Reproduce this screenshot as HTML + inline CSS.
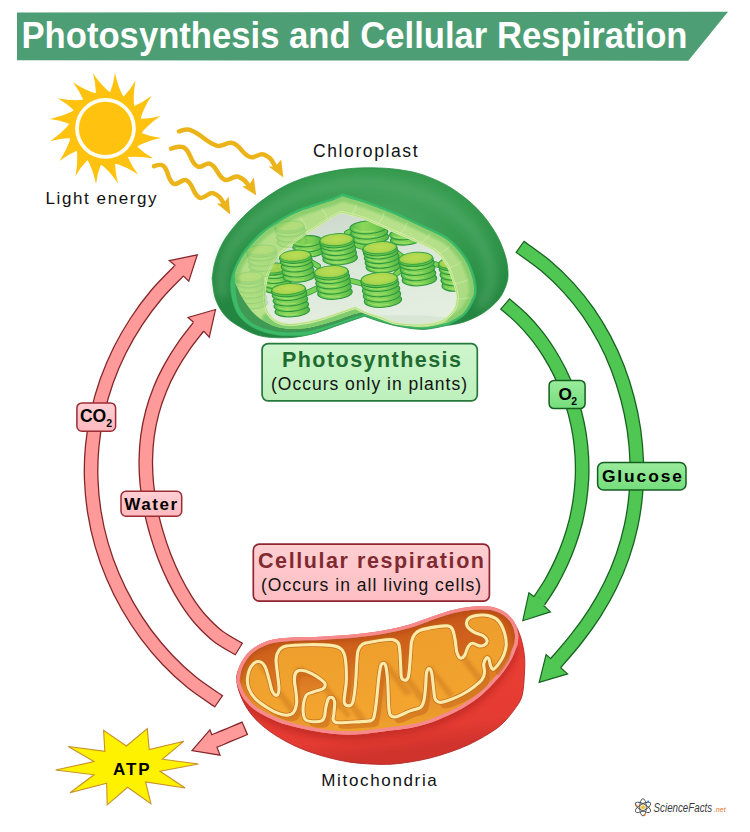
<!DOCTYPE html>
<html lang="en">
<head>
<meta charset="utf-8">
<title>Photosynthesis and Cellular Respiration</title>
<style>
html,body{margin:0;padding:0;background:#fff;}
body{width:750px;height:832px;overflow:hidden;font-family:"Liberation Sans",sans-serif;}
svg{display:block;}
text{font-family:"Liberation Sans",sans-serif;}
</style>
</head>
<body>
<svg width="750" height="832" viewBox="0 0 750 832">
<defs>
<linearGradient id="gPinkBox" x1="0" y1="0" x2="0" y2="1"><stop offset="0" stop-color="#ffd0d4"/><stop offset="1" stop-color="#ffb9bf"/></linearGradient>
<linearGradient id="gGreenBox" x1="0" y1="0" x2="0" y2="1"><stop offset="0" stop-color="#9aec9c"/><stop offset="1" stop-color="#74dd7c"/></linearGradient>
<linearGradient id="gPhotoBox" x1="0" y1="0" x2="0" y2="1"><stop offset="0" stop-color="#cff5cc"/><stop offset="1" stop-color="#bdf0bc"/></linearGradient>
<linearGradient id="gRespBox" x1="0" y1="0" x2="0" y2="1"><stop offset="0" stop-color="#ffcfd2"/><stop offset="1" stop-color="#ffbec3"/></linearGradient>
</defs>
<polygon points="17,12.4 728,11.7 688.3,60.7 17,60.2" fill="#4d9e74"/>
<text x="21.5" y="47.5" font-size="36.5" font-weight="bold" fill="#fff" textLength="666" lengthAdjust="spacingAndGlyphs">Photosynthesis and Cellular Respiration</text>
<path d="M110,92.7 Q113.8,82.9 115,72.7 Q117.8,86.5 123.6,97.3 L105.5,128.4 Z M123.3,97.1 Q130.6,89.5 135.6,80.6 Q132.9,94.4 134.1,106.6 L105.5,128.4 Z M133.9,106.3 Q143.5,102.1 151.6,95.8 Q143.8,107.4 140.3,119.2 L105.5,128.4 Z M140.2,118.9 Q150.7,118.6 160.6,115.9 Q148.9,123.7 141.2,133.2 L105.5,128.4 Z M141.2,132.9 Q151,136.7 161.2,137.9 Q147.4,140.7 136.6,146.5 L105.5,128.4 Z M136.8,146.2 Q144.4,153.5 153.3,158.5 Q139.5,155.8 127.3,157 L105.5,128.4 Z M127.6,156.8 Q131.8,166.4 138.1,174.5 Q126.5,166.7 114.7,163.2 L105.5,128.4 Z M115,163.1 Q115.3,173.6 118,183.5 Q110.2,171.8 100.7,164.1 L105.5,128.4 Z M101,164.1 Q97.2,173.9 96,184.1 Q93.2,170.3 87.4,159.5 L105.5,128.4 Z M87.7,159.7 Q80.4,167.3 75.4,176.2 Q78.1,162.4 76.9,150.2 L105.5,128.4 Z M77.1,150.5 Q67.5,154.7 59.4,161 Q67.2,149.4 70.7,137.6 L105.5,128.4 Z M70.8,137.9 Q60.3,138.2 50.4,140.9 Q62.1,133.1 69.8,123.6 L105.5,128.4 Z M69.8,123.9 Q60,120.1 49.8,118.9 Q63.6,116.1 74.4,110.3 L105.5,128.4 Z M74.2,110.6 Q66.6,103.3 57.7,98.3 Q71.5,101 83.7,99.8 L105.5,128.4 Z M83.4,100 Q79.2,90.4 72.9,82.3 Q84.5,90.1 96.3,93.6 L105.5,128.4 Z M96,93.7 Q95.7,83.2 93,73.3 Q100.8,85 110.3,92.7 L105.5,128.4 Z " fill="#ffc20e"/>
<circle cx="105.5" cy="128.4" r="37" fill="#ffc20e"/>
<circle cx="105.5" cy="128.4" r="30.4" fill="#fffdf2"/>
<circle cx="105.5" cy="128.4" r="26.6" fill="#ffc20e"/>
<path d="M179,131.3C182.3,130.4 186.1,128.4 190,129.8C202,134.2 204.5,141.2 216.5,145.6C222.3,147.7 227.2,141.1 233,143.2C241.2,146.2 241.8,154 250,157C254.9,158.8 259.1,152.8 264,154.6C271.8,157.5 272.2,162.2 276.6,168.2" fill="none" stroke="#ecb41b" stroke-width="4.5" stroke-linecap="round" stroke-linejoin="round"/>
<polygon points="283.4,177.4 268.6,166.6 275.4,166.6 281.2,159.6" fill="#ecb41b"/>
<path d="M171,148.6C174.6,147.7 178.7,145.6 183,147.2C191.2,150.2 189.8,163.6 198,166.6C202.1,168.1 205.9,162.3 210,163.8C217.7,166.6 217.3,177 225,179.8C229.4,181.4 233.6,175 238,176.6C244.8,179.1 246.1,182.1 250,187.2" fill="none" stroke="#ecb41b" stroke-width="4.5" stroke-linecap="round" stroke-linejoin="round"/>
<polygon points="256.2,195.4 242.2,186.6 248.8,185.6 253.8,177.6" fill="#ecb41b"/>
<path d="M154,166.2C156.4,165.4 159.2,164.2 162,165.2C169,167.7 167,181.3 174,183.8C178,185.2 182,178.8 186,180.2C193.6,183 192.4,195 200,197.8C204.2,199.3 208.8,191.7 213,193.2C220.2,195.8 221.4,199.5 224.8,205.3" fill="none" stroke="#ecb41b" stroke-width="4.5" stroke-linecap="round" stroke-linejoin="round"/>
<polygon points="230.2,214.4 216.8,203.6 223.8,203.6 228.6,196.6" fill="#ecb41b"/>
<text x="45.5" y="203.5" font-size="17" fill="#111" textLength="111" lengthAdjust="spacing">Light energy</text>
<path d="M219.1,701.6C214.6,698.4 200.6,689.5 192,682.6C183.4,675.7 175.2,668 167.5,659.9C159.9,651.9 152.7,643.2 146,634.3C139.4,625.3 133.2,615.9 127.7,606.2C122.1,596.5 117.1,586.4 112.8,576.2C108.4,565.9 104.7,555.4 101.6,544.7C98.5,534.1 96.1,523.2 94.4,512.3C92.6,501.4 91.6,490.3 91.2,479.3C90.8,468.3 91.2,457.2 92.2,446.2C93.2,435.2 95,424.1 97.4,413.3C99.8,402.5 102.9,391.7 106.6,381.2C110.4,370.7 114.8,360.3 119.8,350.3C124.8,340.3 130.5,330.5 136.6,321.2C142.7,311.9 149.5,302.8 156.6,294.4C163.7,286 175.4,274.6 179.2,270.7" fill="none" stroke="#85262a" stroke-width="14.8"/>
<polygon points="197.3,254.8 169.3,260.7 175.2,265.5 183.2,275.9 188.8,281.2" fill="#ff9a9b"/>
<polyline points="175.2,265.5 169.3,260.7 197.3,254.8 188.8,281.2 183.2,275.9" fill="none" stroke="#85262a" stroke-width="1.2" stroke-linejoin="miter" stroke-linecap="round"/>
<path d="M218.1,700.9C213.8,697.9 200.4,689.4 192,682.6C183.6,675.8 175.2,668 167.5,659.9C159.9,651.9 152.7,643.2 146,634.3C139.4,625.3 133.2,615.9 127.7,606.2C122.1,596.5 117.1,586.4 112.8,576.2C108.4,565.9 104.7,555.4 101.6,544.7C98.5,534.1 96.1,523.2 94.4,512.3C92.6,501.4 91.6,490.3 91.2,479.3C90.8,468.3 91.2,457.2 92.2,446.2C93.2,435.2 95,424.1 97.4,413.3C99.8,402.5 102.9,391.7 106.6,381.2C110.4,370.7 114.8,360.3 119.8,350.3C124.8,340.3 130.5,330.5 136.6,321.2C142.7,311.9 149.5,302.8 156.6,294.4C163.7,286 175.1,275 179.2,270.7C183.3,266.4 180.9,268.9 181.3,268.5" fill="none" stroke="#ff9a9b" stroke-width="12.2"/>
<path d="M239.3,649.3C235.7,647.1 224.3,641.1 217.8,636.1C211.4,631.1 205.8,625.4 200.5,619.5C195.2,613.5 190.6,607 186.2,600.2C181.9,593.5 177.9,586.3 174.3,579.1C170.7,571.8 167.4,564.2 164.4,556.5C161.5,548.8 158.8,541 156.5,533C154.2,525.1 152.1,517 150.6,509C149,500.9 147.7,492.8 146.9,484.6C146.1,476.5 145.7,468.3 145.8,460.2C145.9,452.1 146.4,444 147.5,436C148.6,428 150.2,420.1 152.3,412.2C154.3,404.4 157,396.7 160.1,389.1C163.1,381.5 166.8,374.1 170.8,366.9C174.7,359.7 179.2,352.6 183.9,345.9C188.5,339.2 196.2,329.9 198.6,326.7" fill="none" stroke="#85262a" stroke-width="14.8"/>
<polygon points="215.5,309.5 188,317.5 193.3,322 204,331.3 209.3,337.2" fill="#ff9a9b"/>
<polyline points="193.3,322 188,317.5 215.5,309.5 209.3,337.2 204,331.3" fill="none" stroke="#85262a" stroke-width="1.2" stroke-linejoin="miter" stroke-linecap="round"/>
<path d="M238.3,648.7C234.9,646.6 224.1,641 217.8,636.1C211.5,631.2 205.8,625.4 200.5,619.5C195.2,613.5 190.6,607 186.2,600.2C181.9,593.5 177.9,586.3 174.3,579.1C170.7,571.8 167.4,564.2 164.4,556.5C161.5,548.8 158.8,541 156.5,533C154.2,525.1 152.1,517 150.6,509C149,500.9 147.7,492.8 146.9,484.6C146.1,476.5 145.7,468.3 145.8,460.2C145.9,452.1 146.4,444 147.5,436C148.6,428 150.2,420.1 152.3,412.2C154.3,404.4 157,396.7 160.1,389.1C163.1,381.5 166.8,374.1 170.8,366.9C174.7,359.7 179.2,352.6 183.9,345.9C188.5,339.2 195.9,330.3 198.6,326.7C201.4,323 200.2,324.7 200.5,324.3" fill="none" stroke="#ff9a9b" stroke-width="12.2"/>
<path d="M245.3,728.1C242.8,729.2 235.1,732.4 230,734.5C224.9,736.6 217.1,739.9 214.5,741" fill="none" stroke="#85262a" stroke-width="14.8"/>
<polygon points="192,750.7 220,755.2 216.5,745.9 212.5,736 209.9,729.9" fill="#ff9a9b"/>
<polyline points="216.5,745.9 220,755.2 192,750.7 209.9,729.9 212.5,736" fill="none" stroke="#85262a" stroke-width="1.2" stroke-linejoin="miter" stroke-linecap="round"/>
<path d="M244.2,728.6C241.8,729.6 234.9,732.4 230,734.5C225.1,736.6 217.4,739.7 214.5,741C211.6,742.2 213,741.6 212.7,741.7" fill="none" stroke="#ff9a9b" stroke-width="12.2"/>
<path d="M519.6,246.5C524,249.7 537.6,259 545.8,265.9C554,272.8 561.6,280.1 568.6,287.9C575.7,295.6 582.2,303.8 588.2,312.3C594.1,320.9 599.6,329.9 604.5,339.1C609.5,348.4 613.9,358.1 617.7,368C621.5,377.9 624.8,388.2 627.5,398.5C630.3,408.9 632.4,419.5 634,430.1C635.5,440.7 636.4,451.5 636.8,462.2C637.1,472.9 636.8,483.7 635.8,494.3C634.9,504.9 633.3,515.5 631.1,525.8C628.9,536.1 626,546.3 622.6,556.2C619.2,566.1 615.1,575.8 610.4,585.3C605.8,594.7 600.6,603.8 594.9,612.7C589.2,621.6 583,630.2 576.4,638.6C569.9,647 559.2,659 555.7,663.1" fill="none" stroke="#176322" stroke-width="14.8"/>
<polygon points="539.2,682.3 567.6,673.9 560.7,667.7 550.8,658.6 546.1,654.6" fill="#50c752"/>
<polyline points="560.7,667.7 567.6,673.9 539.2,682.3 546.1,654.6 550.8,658.6" fill="none" stroke="#176322" stroke-width="1.2" stroke-linejoin="miter" stroke-linecap="round"/>
<path d="M520.5,247.2C524.8,250.3 537.8,259.2 545.8,265.9C553.8,272.7 561.6,280.1 568.6,287.9C575.7,295.6 582.2,303.8 588.2,312.3C594.1,320.9 599.6,329.9 604.5,339.1C609.5,348.4 613.9,358.1 617.7,368C621.5,377.9 624.8,388.2 627.5,398.5C630.3,408.9 632.4,419.5 634,430.1C635.5,440.7 636.4,451.5 636.8,462.2C637.1,472.9 636.8,483.7 635.8,494.3C634.9,504.9 633.3,515.5 631.1,525.8C628.9,536.1 626,546.3 622.6,556.2C619.2,566.1 615.1,575.8 610.4,585.3C605.8,594.7 600.6,603.8 594.9,612.7C589.2,621.6 583,630.2 576.4,638.6C569.9,647 559.5,658.7 555.7,663.1C551.9,667.6 554.1,665 553.8,665.4" fill="none" stroke="#50c752" stroke-width="12.2"/>
<path d="M504.7,303.6C507.5,306 516,312.9 521.2,318.1C526.4,323.2 531.3,328.7 535.9,334.4C540.5,340.1 544.7,346.2 548.7,352.4C552.6,358.6 556.2,365 559.5,371.6C562.7,378.2 565.7,385 568.2,391.8C570.8,398.7 573,405.8 574.9,412.8C576.8,419.9 578.3,427.1 579.5,434.4C580.6,441.6 581.4,448.9 581.8,456.2C582.2,463.5 582.3,470.9 582,478.2C581.6,485.5 580.9,492.8 579.9,500.1C578.8,507.3 577.4,514.5 575.7,521.7C573.9,528.8 571.8,535.8 569.3,542.8C566.9,549.7 564.1,556.5 561,563.2C557.9,569.9 554.5,576.4 550.9,582.8C547.2,589.1 541,598.2 539,601.2" fill="none" stroke="#176322" stroke-width="14.8"/>
<polygon points="522.8,620.7 550.4,611.9 543.9,605.7 534.2,596.8 528.9,592.7" fill="#50c752"/>
<polyline points="543.9,605.7 550.4,611.9 522.8,620.7 528.9,592.7 534.2,596.8" fill="none" stroke="#176322" stroke-width="1.2" stroke-linejoin="miter" stroke-linecap="round"/>
<path d="M505.6,304.4C508.2,306.7 516.2,313.1 521.2,318.1C526.3,323.1 531.3,328.7 535.9,334.4C540.5,340.1 544.7,346.2 548.7,352.4C552.6,358.6 556.2,365 559.5,371.6C562.7,378.2 565.7,385 568.2,391.8C570.8,398.7 573,405.8 574.9,412.8C576.8,419.9 578.3,427.1 579.5,434.4C580.6,441.6 581.4,448.9 581.8,456.2C582.2,463.5 582.3,470.9 582,478.2C581.6,485.5 580.9,492.8 579.9,500.1C578.8,507.3 577.4,514.5 575.7,521.7C573.9,528.8 571.8,535.8 569.3,542.8C566.9,549.7 564.1,556.5 561,563.2C557.9,569.9 554.5,576.4 550.9,582.8C547.2,589.1 541.3,597.7 539,601.2C536.8,604.7 537.7,603.4 537.4,603.8" fill="none" stroke="#50c752" stroke-width="12.2"/>
<polygon points="55.6,770 94,761.6 68.3,746.5 104.8,751.3 103.6,730.4 126.4,746 147.3,728.7 149.2,749.6 184,741.2 162.4,759.2 198.4,764 160,771.2 185.2,788 145.6,782 150.9,803.6 127.6,787.3 107.2,804.8 106.7,783.2 70,792.8 94,774.8" fill="#fff200" stroke="#c8902a" stroke-width="1.1" stroke-linejoin="miter"/>
<text x="113" y="775.3" font-size="17" font-weight="bold" fill="#000" textLength="36.5" lengthAdjust="spacing">ATP</text>
<defs>
<radialGradient id="gEnv" cx="0.55" cy="0.28" r="0.62" fx="0.6" fy="0.3">
<stop offset="0" stop-color="#46a45d"/><stop offset="0.45" stop-color="#369b4f"/><stop offset="0.8" stop-color="#2b9146"/><stop offset="1" stop-color="#248741"/>
</radialGradient>
<linearGradient id="gWall" x1="0" y1="0" x2="1" y2="1">
<stop offset="0" stop-color="#aedc83"/><stop offset="0.5" stop-color="#b8e18c"/><stop offset="1" stop-color="#a6d97e"/>
</linearGradient>
<linearGradient id="gCav" x1="0" y1="0" x2="0.3" y2="1">
<stop offset="0" stop-color="#c9d6c9"/><stop offset="0.55" stop-color="#dbe7d9"/><stop offset="1" stop-color="#e3eee0"/>
</linearGradient>
<linearGradient id="gDisc" x1="0" y1="0" x2="1" y2="0">
<stop offset="0" stop-color="#58bd48"/><stop offset="0.35" stop-color="#8cd75b"/><stop offset="0.7" stop-color="#78cd52"/><stop offset="1" stop-color="#50b444"/>
</linearGradient>
<radialGradient id="gTop" cx="0.5" cy="0.45" r="0.6">
<stop offset="0" stop-color="#bcdd55"/><stop offset="0.6" stop-color="#add74f"/><stop offset="1" stop-color="#86cb4b"/>
</radialGradient>
</defs>
<path d="M212.1,278.5C212.6,275.8 213.3,267.9 215,262C216.7,256.1 219.1,249.4 222.5,243.2C225.9,237 230.6,230.8 235.5,225C240.4,219.2 246.4,213.4 252,208.5C257.6,203.6 263.2,199.4 269,195.5C274.8,191.6 280.9,187.9 286.7,185C292.5,182.1 298.1,180 304,178C309.9,176 315,174.7 322,173.2C329,171.7 337.7,169.9 346,169C354.3,168.1 363.3,167.7 372,167.8C380.7,167.9 389.3,168.3 398,169.5C406.7,170.7 415,172 424,175.2C433,178.4 443.2,182.9 452,188.5C460.8,194.1 469.8,201.2 477,208.5C484.2,215.8 490.6,224.7 495.3,232.5C500,240.3 503.1,248.6 505.2,255.3C507.3,262 507.8,267.8 508,272.7C508.2,277.6 507.8,280.6 506.2,285C504.6,289.4 502.5,294.7 498.7,299.3C494.9,303.9 489.3,308.9 483.5,312.7C477.7,316.5 470.4,319.8 464,322C457.6,324.2 448.4,325.2 445.3,325.8C441.6,326.4 430.9,329.3 423.3,329.4C415.8,329.5 407,327.9 400,326.6C393,325.4 387.2,323.6 381.3,321.9C375.4,320.2 367.3,317.2 364.5,316.3C362.6,316.9 358.3,318.3 353.3,320C348.3,321.7 340.9,324.3 334.7,326.5C328.5,328.7 322.2,331.3 316,333C309.8,334.7 303.5,336.1 297.3,336.9C291.1,337.7 284.9,338 278.7,337.8C272.5,337.6 265.9,337.3 260,335.8C254.1,334.3 249,332 243.3,328.8C237.6,325.6 230.6,321.6 226,316.7C221.4,311.8 217.9,305.7 215.6,299.3C213.3,292.9 212.7,282 212.1,278.5Z" fill="url(#gEnv)" stroke="#2a8c45" stroke-width="0.8"/>
<filter id="blur5" x="-20%" y="-30%" width="140%" height="160%"><feGaussianBlur stdDeviation="5"/></filter>
<path d="M222,292C222.1,288.7 221.3,278.7 222.5,272C223.7,265.3 225.6,258.5 229,252C232.4,245.5 237.5,239 243,233C248.5,227 252.5,222.3 262,216C271.5,209.7 286.2,200.4 300,195C313.8,189.6 330,185.1 345,183.5C360,181.9 375.5,183 390,185.5C404.5,188 419.3,192.2 432,198.5C444.7,204.8 457,213.9 466,223C475,232.1 481.8,243 486,253C490.2,263 491.7,274.7 491,283C490.3,291.3 483.5,299.7 482,303" fill="none" stroke="#58ae6e" stroke-width="12" opacity="0.5" filter="url(#blur5)" stroke-linecap="round"/>
<path d="M230.3,283.3C230.8,281.2 231.2,276.1 233.3,270.9C235.4,265.7 238.5,258.3 243,251.9C247.5,245.5 254.6,237.8 260.4,232.6C266.2,227.4 271.9,224.1 277.7,220.5C283.5,216.9 289.2,213.6 295,210.9C300.8,208.2 306.7,206.6 312.5,204.6C318.3,202.6 325,200.8 330,199C335,197.2 340.4,194.4 342.5,193.5C347.4,195.1 362.8,199.7 372,203C381.2,206.3 389.3,209.6 398,213.4C406.7,217.2 415.5,221.5 424,225.6C432.5,229.7 442.1,233.3 448.8,238.2C455.6,243.1 460.4,249.4 464.5,255.1C468.6,260.8 471.2,266.8 473.2,272.6C475.2,278.4 476.4,285.2 476.4,290C476.4,294.8 475.4,297 473.4,301.2C471.4,305.4 468.6,311.4 464.4,315.3C460.2,319.2 451,323.3 448.3,324.9C444.1,325.5 431.4,328.6 423.3,328.8C415.2,329 407,327.2 400,326C393,324.8 387.2,323 381.3,321.3C375.4,319.6 367.3,316.7 364.5,315.8C362.6,316.4 358.3,317.9 353.3,319.6C348.3,321.3 340.9,324 334.7,326.1C328.5,328.2 320.9,330.9 316,332.4C311.1,333.9 310.2,334.6 305,335.2C299.8,335.8 290.6,335.9 285,335.7C279.4,335.5 276.1,334.9 271.7,334C267.2,333.1 262.8,332 258.3,330C253.9,328 248.7,325.1 245,322C241.3,318.9 238.5,315.5 236.3,311.3C234.1,307.1 232.7,301.4 231.7,296.7C230.7,292 230.5,285.5 230.3,283.3Z" fill="#3dba68" stroke="#37b061" stroke-width="0.6"/>
<path d="M235.4,283.3C235.4,281.4 234,276.8 235.6,271.8C237.2,266.8 240.6,259.6 245,253.3C249.5,247.1 256.4,239.6 262.1,234.5C267.7,229.3 273.4,226.2 279,222.6C284.7,219.1 290.3,215.8 296,213.2C301.8,210.6 307.5,208.9 313.3,207C319.1,205 326,203.1 330.9,201.3C335.7,199.6 340.6,197.3 342.5,196.5C347.3,198 362.1,202.2 371.2,205.4C380.2,208.6 388.4,211.9 397,215.7C405.6,219.4 414.5,223.8 422.9,227.8C431.3,231.9 440.7,235.4 447.3,240.2C453.9,245 458.5,251 462.5,256.5C466.4,262.1 468.9,267.8 470.8,273.4C472.7,279 473.8,285.6 473.9,290C474,294.5 473,296.2 471.1,300.1C469.3,304 466.7,309.7 462.7,313.5C458.7,317.3 449.6,321.2 447,322.8C443.1,323.5 431.1,327 423.3,327.3C415.5,327.6 407.2,325.8 400.3,324.5C393.3,323.3 387.7,321.6 381.7,319.9C375.7,318.1 367.1,315.1 364.2,314.2C362.4,314.7 358.2,315.8 353.3,317.4C348.4,319 340.9,321.7 334.7,323.7C328.5,325.7 320.9,327.9 316,329.2C311.1,330.5 309.7,331 305,331.5C300.3,332 292.8,332.5 287.7,332.4C282.6,332.3 278.8,332 274.3,331.1C269.9,330.2 265.2,329 261,327.3C256.8,325.6 252.4,323.6 249,320.7C245.6,317.8 242.4,314 240.3,310C238.2,306 237.1,301.1 236.3,296.7C235.5,292.2 235.6,285.5 235.4,283.3Z" fill="#3f9a54"/>
<path d="M235.4,283.3C235.4,281.4 234,276.8 235.6,271.8C237.2,266.8 240.6,259.6 245,253.3C249.5,247.1 256.4,239.6 262.1,234.5C267.7,229.3 273.4,226.2 279,222.6C284.7,219.1 290.3,215.8 296,213.2C301.8,210.6 307.5,208.9 313.3,207C319.1,205 326,203.1 330.9,201.3C335.7,199.6 340.6,197.3 342.5,196.5C347.3,198 362.1,202.2 371.2,205.4C380.2,208.6 388.4,211.9 397,215.7C405.6,219.4 414.5,223.8 422.9,227.8C431.3,231.9 440.7,235.4 447.3,240.2C453.9,245 458.5,251 462.5,256.5C466.4,262.1 468.9,267.8 470.8,273.4C472.7,279 473.8,285.6 473.9,290C474,294.5 473,296.2 471.1,300.1C469.3,304 466.7,309.7 462.7,313.5C458.7,317.3 449.6,321.2 447,322.8C443.1,323.5 431.1,327 423.3,327.3C415.5,327.6 407.2,325.8 400.3,324.5C393.3,323.3 387.8,322 381.7,319.9C375.6,317.8 366.5,313.2 363.5,311.9C361.8,312.3 358.1,312.8 353.3,314.3C348.5,315.8 340.9,318.9 334.7,320.8C328.5,322.8 320.9,324.8 316,326C311.1,327.2 309.7,327.8 305,328.2C300.3,328.6 292.7,329 287.7,328.7C282.7,328.4 279,327.6 275,326.3C271,325 267,322.9 263.5,320.8C260,318.7 256.9,316.4 254,313.5C251.1,310.6 248.3,306.8 246,303.5C243.7,300.2 241.7,296.8 240.2,294C238.7,291.2 237.6,288.3 236.8,286.5C236,284.7 235.6,283.8 235.4,283.3Z" fill="url(#gWall)"/>
<clipPath id="clipCF"><path d="M235.4,283.3C235.4,281.4 234,276.8 235.6,271.8C237.2,266.8 240.6,259.6 245,253.3C249.5,247.1 256.4,239.6 262.1,234.5C267.7,229.3 273.4,226.2 279,222.6C284.7,219.1 290.3,215.8 296,213.2C301.8,210.6 307.5,208.9 313.3,207C319.1,205 326,203.1 330.9,201.3C335.7,199.6 340.6,197.3 342.5,196.5C347.3,198 362.1,202.2 371.2,205.4C380.2,208.6 388.4,211.9 397,215.7C405.6,219.4 414.5,223.8 422.9,227.8C431.3,231.9 440.7,235.4 447.3,240.2C453.9,245 458.5,251 462.5,256.5C466.4,262.1 468.9,267.8 470.8,273.4C472.7,279 473.8,285.6 473.9,290C474,294.5 473,296.2 471.1,300.1C469.3,304 466.7,309.7 462.7,313.5C458.7,317.3 449.6,321.2 447,322.8C443.1,323.5 431.1,327 423.3,327.3C415.5,327.6 407.2,325.8 400.3,324.5C393.3,323.3 387.8,322 381.7,319.9C375.6,317.8 366.5,313.2 363.5,311.9C361.8,312.3 358.1,312.8 353.3,314.3C348.5,315.8 340.9,318.9 334.7,320.8C328.5,322.8 320.9,324.8 316,326C311.1,327.2 309.7,327.8 305,328.2C300.3,328.6 292.7,329 287.7,328.7C282.7,328.4 279,327.6 275,326.3C271,325 267,322.9 263.5,320.8C260,318.7 256.9,316.4 254,313.5C251.1,310.6 248.3,306.8 246,303.5C243.7,300.2 241.7,296.8 240.2,294C238.7,291.2 237.6,288.3 236.8,286.5C236,284.7 235.6,283.8 235.4,283.3Z"/></clipPath>
<filter id="blur1b" x="-10%" y="-10%" width="120%" height="120%"><feGaussianBlur stdDeviation="1.1"/></filter>
<g clip-path="url(#clipCF)"><path d="M235.4,283.3C235.4,281.4 234,276.8 235.6,271.8C237.2,266.8 240.6,259.6 245,253.3C249.5,247.1 256.4,239.6 262.1,234.5C267.7,229.3 273.4,226.2 279,222.6C284.7,219.1 290.3,215.8 296,213.2C301.8,210.6 307.5,208.9 313.3,207C319.1,205 326,203.1 330.9,201.3C335.7,199.6 340.6,197.3 342.5,196.5C347.3,198 362.1,202.2 371.2,205.4C380.2,208.6 388.4,211.9 397,215.7C405.6,219.4 414.5,223.8 422.9,227.8C431.3,231.9 440.7,235.4 447.3,240.2C453.9,245 458.5,251 462.5,256.5C466.4,262.1 468.9,267.8 470.8,273.4C472.7,279 473.8,285.6 473.9,290C474,294.5 473,296.2 471.1,300.1C469.3,304 466.7,309.7 462.7,313.5C458.7,317.3 449.6,321.2 447,322.8" fill="none" stroke="#86cc6b" stroke-width="9.5" opacity="0.85" filter="url(#blur1b)"/></g>
<filter id="blur1" x="-10%" y="-40%" width="120%" height="180%"><feGaussianBlur stdDeviation="1.3"/></filter>
<g clip-path="url(#clipCF)"><path d="M266,318C266.8,318.8 268.8,321.2 271,322.5C273.2,323.8 275.8,325.1 279,326C282.2,326.9 285.4,327.9 290,328C294.6,328.1 300.8,327.6 306.7,326.5C312.6,325.4 319.1,323.6 325.3,321.7C331.5,319.8 338.7,317.1 344,315.2C349.3,313.3 354.8,311.3 357,310.5" fill="none" stroke="#7fcc6c" stroke-width="8" stroke-linecap="round" filter="url(#blur1)"/></g>
<path d="M355.2,307.7C353.3,308.3 349,309.8 344,311.5C339,313.2 331.5,316.1 325.3,318C319.1,319.9 312.9,321.6 306.7,322.7C300.5,323.8 293.3,324.8 288,324.5C282.7,324.2 278.4,322.8 275,320.8C271.6,318.8 269.3,315.9 267.5,312.4C265.7,308.9 264.7,304.1 264.3,300C263.9,295.9 264.5,292.2 265,288C265.5,283.8 265.7,280 267.5,275C269.3,270 273.1,262.2 276,258C278.9,253.8 281.5,252.6 285,249.5C288.5,246.4 292.4,243.1 297,239.7C301.6,236.3 307.2,232.9 312.7,229.3C318.2,225.7 325.3,220.9 330,218C334.7,215.1 339,213 340.8,212C344.6,213 355.2,215.1 363.3,218C371.4,220.9 380.6,225.5 389.3,229.3C398,233.1 407.7,237.1 415.3,240.6C422.9,244.1 429.4,246.2 434.7,250.1C439.9,254 443.6,258.8 446.8,264C450,269.2 451.9,276.1 453.7,281.3C455.4,286.5 456.9,290.8 457.3,295C457.7,299.2 457,303.4 456,306.5C455,309.6 453.8,311.1 451.5,313.5C449.2,315.9 446.7,319.1 442,321C437.3,322.9 430.9,324.6 423.3,325C415.8,325.4 403.7,324.8 396.7,323.6C389.7,322.4 386.4,319.8 381.3,318C376.2,316.2 370.8,314.8 366.4,313.1C362,311.4 357.1,308.6 355.2,307.7Z" fill="url(#gCav)"/>
<clipPath id="clipCav"><path d="M355.2,307.7C353.3,308.3 349,309.8 344,311.5C339,313.2 331.5,316.1 325.3,318C319.1,319.9 312.9,321.6 306.7,322.7C300.5,323.8 293.3,324.8 288,324.5C282.7,324.2 278.4,322.8 275,320.8C271.6,318.8 269.3,315.9 267.5,312.4C265.7,308.9 264.7,304.1 264.3,300C263.9,295.9 264.5,292.2 265,288C265.5,283.8 265.7,280 267.5,275C269.3,270 273.1,262.2 276,258C278.9,253.8 281.5,252.6 285,249.5C288.5,246.4 292.4,243.1 297,239.7C301.6,236.3 307.2,232.9 312.7,229.3C318.2,225.7 325.3,220.9 330,218C334.7,215.1 339,213 340.8,212C344.6,213 355.2,215.1 363.3,218C371.4,220.9 380.6,225.5 389.3,229.3C398,233.1 407.7,237.1 415.3,240.6C422.9,244.1 429.4,246.2 434.7,250.1C439.9,254 443.6,258.8 446.8,264C450,269.2 451.9,276.1 453.7,281.3C455.4,286.5 456.9,290.8 457.3,295C457.7,299.2 457,303.4 456,306.5C455,309.6 453.8,311.1 451.5,313.5C449.2,315.9 446.7,319.1 442,321C437.3,322.9 430.9,324.6 423.3,325C415.8,325.4 403.7,324.8 396.7,323.6C389.7,322.4 386.4,319.8 381.3,318C376.2,316.2 370.8,314.8 366.4,313.1C362,311.4 357.1,308.6 355.2,307.7Z"/></clipPath>
<g clip-path="url(#clipCav)">
<ellipse cx="400" cy="322" rx="60" ry="7" fill="#c4d6c4" opacity="0.35"/>
<line x1="310" y1="249" x2="322" y2="245" stroke="#2f9a3e" stroke-width="5.8" stroke-linecap="round"/>
<line x1="310" y1="249" x2="322" y2="245" stroke="#7ad054" stroke-width="4.2" stroke-linecap="round"/>
<line x1="353" y1="244" x2="366" y2="248" stroke="#2f9a3e" stroke-width="5.8" stroke-linecap="round"/>
<line x1="353" y1="244" x2="366" y2="248" stroke="#7ad054" stroke-width="4.2" stroke-linecap="round"/>
<line x1="347" y1="233" x2="356" y2="229" stroke="#2f9a3e" stroke-width="5.8" stroke-linecap="round"/>
<line x1="347" y1="233" x2="356" y2="229" stroke="#7ad054" stroke-width="4.2" stroke-linecap="round"/>
<line x1="396" y1="252" x2="404" y2="258" stroke="#2f9a3e" stroke-width="5.8" stroke-linecap="round"/>
<line x1="396" y1="252" x2="404" y2="258" stroke="#7ad054" stroke-width="4.2" stroke-linecap="round"/>
<line x1="305" y1="294" x2="318" y2="288" stroke="#2f9a3e" stroke-width="5.8" stroke-linecap="round"/>
<line x1="305" y1="294" x2="318" y2="288" stroke="#7ad054" stroke-width="4.2" stroke-linecap="round"/>
<line x1="348" y1="280" x2="364" y2="284" stroke="#2f9a3e" stroke-width="5.8" stroke-linecap="round"/>
<line x1="348" y1="280" x2="364" y2="284" stroke="#7ad054" stroke-width="4.2" stroke-linecap="round"/>
<line x1="396" y1="274" x2="403" y2="268" stroke="#2f9a3e" stroke-width="5.8" stroke-linecap="round"/>
<line x1="396" y1="274" x2="403" y2="268" stroke="#7ad054" stroke-width="4.2" stroke-linecap="round"/>
<line x1="431" y1="263" x2="442" y2="266" stroke="#2f9a3e" stroke-width="5.8" stroke-linecap="round"/>
<line x1="431" y1="263" x2="442" y2="266" stroke="#7ad054" stroke-width="4.2" stroke-linecap="round"/>
<line x1="311" y1="262" x2="318" y2="266" stroke="#2f9a3e" stroke-width="5.8" stroke-linecap="round"/>
<line x1="311" y1="262" x2="318" y2="266" stroke="#7ad054" stroke-width="4.2" stroke-linecap="round"/>
<g transform="rotate(-4 368 229.9)">
<ellipse cx="369.6" cy="237.9" rx="18.5" ry="6.5" fill="url(#gDisc)" stroke="#2c983d" stroke-width="1.1"/>
<path d="M354.8,238.6 A16.7,5.9 0 0 0 375.2,241.9" fill="none" stroke="#a4e370" stroke-width="1.1" opacity="0.75"/>
<ellipse cx="369.1" cy="232.6" rx="18.5" ry="6.5" fill="url(#gDisc)" stroke="#2c983d" stroke-width="1.1"/>
<path d="M354.3,233.2 A16.7,5.9 0 0 0 374.7,236.6" fill="none" stroke="#a4e370" stroke-width="1.1" opacity="0.75"/>
<ellipse cx="368.6" cy="227.3" rx="18.5" ry="6.5" fill="url(#gDisc)" stroke="#2c983d" stroke-width="1.1"/>
<path d="M353.8,228 A16.7,5.9 0 0 0 374.1,231.3" fill="none" stroke="#a4e370" stroke-width="1.1" opacity="0.75"/>
</g>
<g transform="rotate(-4 404 234.3)">
<ellipse cx="405.1" cy="239.6" rx="15" ry="5.5" fill="url(#gDisc)" stroke="#2c983d" stroke-width="1.1"/>
<path d="M393.1,240.2 A13.5,5 0 0 0 409.6,243" fill="none" stroke="#a4e370" stroke-width="1.1" opacity="0.75"/>
<ellipse cx="404.6" cy="234.3" rx="15" ry="5.5" fill="url(#gDisc)" stroke="#2c983d" stroke-width="1.1"/>
<path d="M392.6,234.9 A13.5,5 0 0 0 409.1,237.7" fill="none" stroke="#a4e370" stroke-width="1.1" opacity="0.75"/>
</g>
<g transform="rotate(-4 306.5 243.9)">
<ellipse cx="308.1" cy="251.9" rx="15" ry="5.5" fill="url(#gDisc)" stroke="#2c983d" stroke-width="1.1"/>
<path d="M296.1,252.5 A13.5,5 0 0 0 312.6,255.3" fill="none" stroke="#a4e370" stroke-width="1.1" opacity="0.75"/>
<ellipse cx="307.6" cy="246.6" rx="15" ry="5.5" fill="url(#gDisc)" stroke="#2c983d" stroke-width="1.1"/>
<path d="M295.6,247.2 A13.5,5 0 0 0 312.1,250" fill="none" stroke="#a4e370" stroke-width="1.1" opacity="0.75"/>
<ellipse cx="307.1" cy="241.3" rx="15" ry="5.5" fill="url(#gDisc)" stroke="#2c983d" stroke-width="1.1"/>
<path d="M295.1,241.9 A13.5,5 0 0 0 311.6,244.7" fill="none" stroke="#a4e370" stroke-width="1.1" opacity="0.75"/>
</g>
<g transform="rotate(-4 275 278)">
<ellipse cx="277.2" cy="288" rx="14" ry="5.5" fill="url(#gDisc)" stroke="#2c983d" stroke-width="1.1"/>
<path d="M266,288.6 A12.6,5 0 0 0 281.4,291.4" fill="none" stroke="#a4e370" stroke-width="1.1" opacity="0.75"/>
<ellipse cx="276.6" cy="283" rx="14" ry="5.5" fill="url(#gDisc)" stroke="#2c983d" stroke-width="1.1"/>
<path d="M265.4,283.6 A12.6,5 0 0 0 280.8,286.4" fill="none" stroke="#a4e370" stroke-width="1.1" opacity="0.75"/>
<ellipse cx="276.1" cy="278" rx="14" ry="5.5" fill="url(#gDisc)" stroke="#2c983d" stroke-width="1.1"/>
<path d="M264.9,278.6 A12.6,5 0 0 0 280.3,281.4" fill="none" stroke="#a4e370" stroke-width="1.1" opacity="0.75"/>
<ellipse cx="275.6" cy="273" rx="14" ry="5.5" fill="url(#gDisc)" stroke="#2c983d" stroke-width="1.1"/>
<path d="M264.4,273.6 A12.6,5 0 0 0 279.8,276.4" fill="none" stroke="#a4e370" stroke-width="1.1" opacity="0.75"/>
<ellipse cx="275" cy="269.6" rx="14" ry="5.5" fill="#66c44c" stroke="#2c983d" stroke-width="1.1"/>
<ellipse cx="275" cy="268" rx="13.4" ry="5" fill="url(#gTop)" stroke="#3aa641" stroke-width="1"/>
</g>
<g transform="rotate(-4 453 274.2)">
<ellipse cx="455.2" cy="285.4" rx="14" ry="6" fill="url(#gDisc)" stroke="#2c983d" stroke-width="1.1"/>
<path d="M444,286 A12.6,5.4 0 0 0 459.4,289.1" fill="none" stroke="#a4e370" stroke-width="1.1" opacity="0.75"/>
<ellipse cx="454.6" cy="279.8" rx="14" ry="6" fill="url(#gDisc)" stroke="#2c983d" stroke-width="1.1"/>
<path d="M443.4,280.4 A12.6,5.4 0 0 0 458.8,283.5" fill="none" stroke="#a4e370" stroke-width="1.1" opacity="0.75"/>
<ellipse cx="454.1" cy="274.2" rx="14" ry="6" fill="url(#gDisc)" stroke="#2c983d" stroke-width="1.1"/>
<path d="M442.9,274.8 A12.6,5.4 0 0 0 458.3,277.9" fill="none" stroke="#a4e370" stroke-width="1.1" opacity="0.75"/>
<ellipse cx="453.6" cy="268.6" rx="14" ry="6" fill="url(#gDisc)" stroke="#2c983d" stroke-width="1.1"/>
<path d="M442.4,269.2 A12.6,5.4 0 0 0 457.8,272.3" fill="none" stroke="#a4e370" stroke-width="1.1" opacity="0.75"/>
<ellipse cx="453" cy="264.6" rx="14" ry="6" fill="#66c44c" stroke="#2c983d" stroke-width="1.1"/>
<ellipse cx="453" cy="263" rx="13.4" ry="5.5" fill="url(#gTop)" stroke="#3aa641" stroke-width="1"/>
</g>
<g transform="rotate(-4 337.3 249.1)">
<ellipse cx="339.5" cy="258.5" rx="17.3" ry="6.5" fill="url(#gDisc)" stroke="#2c983d" stroke-width="1.1"/>
<path d="M325.7,259.1 A15.6,5.9 0 0 0 344.7,262.5" fill="none" stroke="#a4e370" stroke-width="1.1" opacity="0.75"/>
<ellipse cx="338.9" cy="253.8" rx="17.3" ry="6.5" fill="url(#gDisc)" stroke="#2c983d" stroke-width="1.1"/>
<path d="M325.1,254.4 A15.6,5.9 0 0 0 344.1,257.8" fill="none" stroke="#a4e370" stroke-width="1.1" opacity="0.75"/>
<ellipse cx="338.4" cy="249.1" rx="17.3" ry="6.5" fill="url(#gDisc)" stroke="#2c983d" stroke-width="1.1"/>
<path d="M324.6,249.8 A15.6,5.9 0 0 0 343.6,253.1" fill="none" stroke="#a4e370" stroke-width="1.1" opacity="0.75"/>
<ellipse cx="337.9" cy="244.4" rx="17.3" ry="6.5" fill="url(#gDisc)" stroke="#2c983d" stroke-width="1.1"/>
<path d="M324,245 A15.6,5.9 0 0 0 343,248.4" fill="none" stroke="#a4e370" stroke-width="1.1" opacity="0.75"/>
<ellipse cx="337.3" cy="241.3" rx="17.3" ry="6.5" fill="#66c44c" stroke="#2c983d" stroke-width="1.1"/>
<ellipse cx="337.3" cy="239.7" rx="16.7" ry="6" fill="url(#gTop)" stroke="#3aa641" stroke-width="1"/>
</g>
<g transform="rotate(-4 380.5 257.1)">
<ellipse cx="382.7" cy="266.5" rx="17.3" ry="6.5" fill="url(#gDisc)" stroke="#2c983d" stroke-width="1.1"/>
<path d="M368.9,267.1 A15.6,5.9 0 0 0 387.9,270.5" fill="none" stroke="#a4e370" stroke-width="1.1" opacity="0.75"/>
<ellipse cx="382.1" cy="261.8" rx="17.3" ry="6.5" fill="url(#gDisc)" stroke="#2c983d" stroke-width="1.1"/>
<path d="M368.3,262.4 A15.6,5.9 0 0 0 387.3,265.8" fill="none" stroke="#a4e370" stroke-width="1.1" opacity="0.75"/>
<ellipse cx="381.6" cy="257.1" rx="17.3" ry="6.5" fill="url(#gDisc)" stroke="#2c983d" stroke-width="1.1"/>
<path d="M367.8,257.7 A15.6,5.9 0 0 0 386.8,261.1" fill="none" stroke="#a4e370" stroke-width="1.1" opacity="0.75"/>
<ellipse cx="381.1" cy="252.4" rx="17.3" ry="6.5" fill="url(#gDisc)" stroke="#2c983d" stroke-width="1.1"/>
<path d="M367.2,253 A15.6,5.9 0 0 0 386.2,256.4" fill="none" stroke="#a4e370" stroke-width="1.1" opacity="0.75"/>
<ellipse cx="380.5" cy="249.3" rx="17.3" ry="6.5" fill="#66c44c" stroke="#2c983d" stroke-width="1.1"/>
<ellipse cx="380.5" cy="247.7" rx="16.7" ry="6" fill="url(#gTop)" stroke="#3aa641" stroke-width="1"/>
</g>
<g transform="rotate(-4 416.5 268.9)">
<ellipse cx="418.7" cy="279.5" rx="17.3" ry="6.5" fill="url(#gDisc)" stroke="#2c983d" stroke-width="1.1"/>
<path d="M404.9,280.1 A15.6,5.9 0 0 0 423.9,283.5" fill="none" stroke="#a4e370" stroke-width="1.1" opacity="0.75"/>
<ellipse cx="418.1" cy="274.2" rx="17.3" ry="6.5" fill="url(#gDisc)" stroke="#2c983d" stroke-width="1.1"/>
<path d="M404.3,274.8 A15.6,5.9 0 0 0 423.3,278.2" fill="none" stroke="#a4e370" stroke-width="1.1" opacity="0.75"/>
<ellipse cx="417.6" cy="268.9" rx="17.3" ry="6.5" fill="url(#gDisc)" stroke="#2c983d" stroke-width="1.1"/>
<path d="M403.8,269.6 A15.6,5.9 0 0 0 422.8,272.9" fill="none" stroke="#a4e370" stroke-width="1.1" opacity="0.75"/>
<ellipse cx="417.1" cy="263.6" rx="17.3" ry="6.5" fill="url(#gDisc)" stroke="#2c983d" stroke-width="1.1"/>
<path d="M403.2,264.2 A15.6,5.9 0 0 0 422.2,267.6" fill="none" stroke="#a4e370" stroke-width="1.1" opacity="0.75"/>
<ellipse cx="416.5" cy="259.9" rx="17.3" ry="6.5" fill="#66c44c" stroke="#2c983d" stroke-width="1.1"/>
<ellipse cx="416.5" cy="258.3" rx="16.7" ry="6" fill="url(#gTop)" stroke="#3aa641" stroke-width="1"/>
</g>
<g transform="rotate(-4 296 266)">
<ellipse cx="298.2" cy="276.3" rx="16" ry="6" fill="url(#gDisc)" stroke="#2c983d" stroke-width="1.1"/>
<path d="M285.4,276.9 A14.4,5.4 0 0 0 303,280" fill="none" stroke="#a4e370" stroke-width="1.1" opacity="0.75"/>
<ellipse cx="297.6" cy="271.1" rx="16" ry="6" fill="url(#gDisc)" stroke="#2c983d" stroke-width="1.1"/>
<path d="M284.8,271.8 A14.4,5.4 0 0 0 302.4,274.9" fill="none" stroke="#a4e370" stroke-width="1.1" opacity="0.75"/>
<ellipse cx="297.1" cy="266" rx="16" ry="6" fill="url(#gDisc)" stroke="#2c983d" stroke-width="1.1"/>
<path d="M284.3,266.6 A14.4,5.4 0 0 0 301.9,269.7" fill="none" stroke="#a4e370" stroke-width="1.1" opacity="0.75"/>
<ellipse cx="296.6" cy="260.8" rx="16" ry="6" fill="url(#gDisc)" stroke="#2c983d" stroke-width="1.1"/>
<path d="M283.8,261.4 A14.4,5.4 0 0 0 301.4,264.6" fill="none" stroke="#a4e370" stroke-width="1.1" opacity="0.75"/>
<ellipse cx="296" cy="257.3" rx="16" ry="6" fill="#66c44c" stroke="#2c983d" stroke-width="1.1"/>
<ellipse cx="296" cy="255.7" rx="15.4" ry="5.5" fill="url(#gTop)" stroke="#3aa641" stroke-width="1"/>
</g>
<g transform="rotate(-4 332 282.3)">
<ellipse cx="334.2" cy="292.9" rx="17.3" ry="6.5" fill="url(#gDisc)" stroke="#2c983d" stroke-width="1.1"/>
<path d="M320.4,293.5 A15.6,5.9 0 0 0 339.4,296.9" fill="none" stroke="#a4e370" stroke-width="1.1" opacity="0.75"/>
<ellipse cx="333.6" cy="287.6" rx="17.3" ry="6.5" fill="url(#gDisc)" stroke="#2c983d" stroke-width="1.1"/>
<path d="M319.8,288.2 A15.6,5.9 0 0 0 338.8,291.6" fill="none" stroke="#a4e370" stroke-width="1.1" opacity="0.75"/>
<ellipse cx="333.1" cy="282.3" rx="17.3" ry="6.5" fill="url(#gDisc)" stroke="#2c983d" stroke-width="1.1"/>
<path d="M319.3,282.9 A15.6,5.9 0 0 0 338.3,286.3" fill="none" stroke="#a4e370" stroke-width="1.1" opacity="0.75"/>
<ellipse cx="332.6" cy="277" rx="17.3" ry="6.5" fill="url(#gDisc)" stroke="#2c983d" stroke-width="1.1"/>
<path d="M318.7,277.6 A15.6,5.9 0 0 0 337.7,281" fill="none" stroke="#a4e370" stroke-width="1.1" opacity="0.75"/>
<ellipse cx="332" cy="273.3" rx="17.3" ry="6.5" fill="#66c44c" stroke="#2c983d" stroke-width="1.1"/>
<ellipse cx="332" cy="271.7" rx="16.7" ry="6" fill="url(#gTop)" stroke="#3aa641" stroke-width="1"/>
</g>
<g transform="rotate(-4 380 289.7)">
<ellipse cx="382.2" cy="300.5" rx="18.7" ry="7" fill="url(#gDisc)" stroke="#2c983d" stroke-width="1.1"/>
<path d="M367.2,301.2 A16.8,6.3 0 0 0 387.8,304.8" fill="none" stroke="#a4e370" stroke-width="1.1" opacity="0.75"/>
<ellipse cx="381.6" cy="295.1" rx="18.7" ry="7" fill="url(#gDisc)" stroke="#2c983d" stroke-width="1.1"/>
<path d="M366.7,295.8 A16.8,6.3 0 0 0 387.3,299.4" fill="none" stroke="#a4e370" stroke-width="1.1" opacity="0.75"/>
<ellipse cx="381.1" cy="289.7" rx="18.7" ry="7" fill="url(#gDisc)" stroke="#2c983d" stroke-width="1.1"/>
<path d="M366.1,290.4 A16.8,6.3 0 0 0 386.7,294" fill="none" stroke="#a4e370" stroke-width="1.1" opacity="0.75"/>
<ellipse cx="380.6" cy="284.3" rx="18.7" ry="7" fill="url(#gDisc)" stroke="#2c983d" stroke-width="1.1"/>
<path d="M365.6,285 A16.8,6.3 0 0 0 386.2,288.6" fill="none" stroke="#a4e370" stroke-width="1.1" opacity="0.75"/>
<ellipse cx="380" cy="280.5" rx="18.7" ry="7" fill="#66c44c" stroke="#2c983d" stroke-width="1.1"/>
<ellipse cx="380" cy="278.9" rx="18.1" ry="6.5" fill="url(#gTop)" stroke="#3aa641" stroke-width="1"/>
</g>
<g transform="rotate(-4 289.3 300)">
<ellipse cx="291.5" cy="311" rx="17.3" ry="6" fill="url(#gDisc)" stroke="#2c983d" stroke-width="1.1"/>
<path d="M277.7,311.6 A15.6,5.4 0 0 0 296.7,314.7" fill="none" stroke="#a4e370" stroke-width="1.1" opacity="0.75"/>
<ellipse cx="290.9" cy="305.5" rx="17.3" ry="6" fill="url(#gDisc)" stroke="#2c983d" stroke-width="1.1"/>
<path d="M277.1,306.1 A15.6,5.4 0 0 0 296.1,309.2" fill="none" stroke="#a4e370" stroke-width="1.1" opacity="0.75"/>
<ellipse cx="290.4" cy="300" rx="17.3" ry="6" fill="url(#gDisc)" stroke="#2c983d" stroke-width="1.1"/>
<path d="M276.6,300.6 A15.6,5.4 0 0 0 295.6,303.7" fill="none" stroke="#a4e370" stroke-width="1.1" opacity="0.75"/>
<ellipse cx="289.9" cy="294.5" rx="17.3" ry="6" fill="url(#gDisc)" stroke="#2c983d" stroke-width="1.1"/>
<path d="M276,295.1 A15.6,5.4 0 0 0 295,298.2" fill="none" stroke="#a4e370" stroke-width="1.1" opacity="0.75"/>
<ellipse cx="289.3" cy="290.6" rx="17.3" ry="6" fill="#66c44c" stroke="#2c983d" stroke-width="1.1"/>
<ellipse cx="289.3" cy="289" rx="16.7" ry="5.5" fill="url(#gTop)" stroke="#3aa641" stroke-width="1"/>
</g>
</g>
<path d="M355.2,307.7C353.3,308.3 349,309.8 344,311.5C339,313.2 331.5,316.1 325.3,318C319.1,319.9 312.9,321.6 306.7,322.7C300.5,323.8 293.3,324.8 288,324.5C282.7,324.2 278.4,322.8 275,320.8C271.6,318.8 269.3,315.9 267.5,312.4C265.7,308.9 264.7,304.1 264.3,300C263.9,295.9 264.5,292.2 265,288C265.5,283.8 265.7,280 267.5,275C269.3,270 273.1,262.2 276,258C278.9,253.8 281.5,252.6 285,249.5C288.5,246.4 292.4,243.1 297,239.7C301.6,236.3 307.2,232.9 312.7,229.3C318.2,225.7 325.3,220.9 330,218C334.7,215.1 339,213 340.8,212C344.6,213 355.2,215.1 363.3,218C371.4,220.9 380.6,225.5 389.3,229.3C398,233.1 407.7,237.1 415.3,240.6C422.9,244.1 429.4,246.2 434.7,250.1C439.9,254 443.6,258.8 446.8,264C450,269.2 451.9,276.1 453.7,281.3C455.4,286.5 456.9,290.8 457.3,295C457.7,299.2 457,303.4 456,306.5C455,309.6 453.8,311.1 451.5,313.5C449.2,315.9 446.7,319.1 442,321C437.3,322.9 430.9,324.6 423.3,325C415.8,325.4 403.7,324.8 396.7,323.6C389.7,322.4 386.4,319.8 381.3,318C376.2,316.2 370.8,314.8 366.4,313.1C362,311.4 357.1,308.6 355.2,307.7Z" fill="none" stroke="#d9efab" stroke-width="2.5" stroke-linejoin="round"/>
<path d="M355.2,307.7C353.3,308.3 349,309.8 344,311.5C339,313.2 331.5,316.1 325.3,318C319.1,319.9 312.9,321.6 306.7,322.7C300.5,323.8 293.3,324.8 288,324.5C282.7,324.2 278.4,322.8 275,320.8C271.6,318.8 269.3,315.9 267.5,312.4C265.7,308.9 264.7,304.1 264.3,300C263.9,295.9 264.5,292.2 265,288C265.5,283.8 265.7,280 267.5,275C269.3,270 273.1,262.2 276,258C278.9,253.8 281.5,252.6 285,249.5C288.5,246.4 292.4,243.1 297,239.7C301.6,236.3 307.2,232.9 312.7,229.3C318.2,225.7 325.3,220.9 330,218C334.7,215.1 339,213 340.8,212C344.6,213 355.2,215.1 363.3,218C371.4,220.9 380.6,225.5 389.3,229.3C398,233.1 407.7,237.1 415.3,240.6C422.9,244.1 429.4,246.2 434.7,250.1C439.9,254 443.6,258.8 446.8,264C450,269.2 451.9,276.1 453.7,281.3C455.4,286.5 456.9,290.8 457.3,295C457.7,299.2 457,303.4 456,306.5C455,309.6 453.8,311.1 451.5,313.5C449.2,315.9 446.7,319.1 442,321C437.3,322.9 430.9,324.6 423.3,325C415.8,325.4 403.7,324.8 396.7,323.6C389.7,322.4 386.4,319.8 381.3,318C376.2,316.2 370.8,314.8 366.4,313.1C362,311.4 357.1,308.6 355.2,307.7Z" fill="none" stroke="#8fcf6a" stroke-width="0.7" stroke-linejoin="round" opacity="0.8"/>
<g clip-path="url(#clipCF)" opacity="0.2">
<g transform="rotate(-4 262 260.6)">
<ellipse cx="264.2" cy="271.2" rx="15" ry="5.5" fill="url(#gDisc)" stroke="#2c983d" stroke-width="1.1"/>
<path d="M252.2,271.8 A13.5,5 0 0 0 268.7,274.6" fill="none" stroke="#a4e370" stroke-width="1.1" opacity="0.75"/>
<ellipse cx="263.6" cy="265.9" rx="15" ry="5.5" fill="url(#gDisc)" stroke="#2c983d" stroke-width="1.1"/>
<path d="M251.6,266.4 A13.5,5 0 0 0 268.1,269.3" fill="none" stroke="#a4e370" stroke-width="1.1" opacity="0.75"/>
<ellipse cx="263.1" cy="260.6" rx="15" ry="5.5" fill="url(#gDisc)" stroke="#2c983d" stroke-width="1.1"/>
<path d="M251.1,261.2 A13.5,5 0 0 0 267.6,264" fill="none" stroke="#a4e370" stroke-width="1.1" opacity="0.75"/>
<ellipse cx="262.6" cy="255.3" rx="15" ry="5.5" fill="url(#gDisc)" stroke="#2c983d" stroke-width="1.1"/>
<path d="M250.6,255.9 A13.5,5 0 0 0 267.1,258.7" fill="none" stroke="#a4e370" stroke-width="1.1" opacity="0.75"/>
<ellipse cx="262" cy="251.6" rx="15" ry="5.5" fill="#66c44c" stroke="#2c983d" stroke-width="1.1"/>
<ellipse cx="262" cy="250" rx="14.4" ry="5" fill="url(#gTop)" stroke="#3aa641" stroke-width="1"/>
</g>
<g transform="rotate(-4 250 290.2)">
<ellipse cx="252.8" cy="303.5" rx="14" ry="5.5" fill="url(#gDisc)" stroke="#2c983d" stroke-width="1.1"/>
<path d="M241.6,304.1 A12.6,5 0 0 0 256.9,306.9" fill="none" stroke="#a4e370" stroke-width="1.1" opacity="0.75"/>
<ellipse cx="252.2" cy="298.2" rx="14" ry="5.5" fill="url(#gDisc)" stroke="#2c983d" stroke-width="1.1"/>
<path d="M241,298.8 A12.6,5 0 0 0 256.4,301.6" fill="none" stroke="#a4e370" stroke-width="1.1" opacity="0.75"/>
<ellipse cx="251.7" cy="292.9" rx="14" ry="5.5" fill="url(#gDisc)" stroke="#2c983d" stroke-width="1.1"/>
<path d="M240.5,293.4 A12.6,5 0 0 0 255.8,296.3" fill="none" stroke="#a4e370" stroke-width="1.1" opacity="0.75"/>
<ellipse cx="251.1" cy="287.6" rx="14" ry="5.5" fill="url(#gDisc)" stroke="#2c983d" stroke-width="1.1"/>
<path d="M239.9,288.2 A12.6,5 0 0 0 255.3,291" fill="none" stroke="#a4e370" stroke-width="1.1" opacity="0.75"/>
<ellipse cx="250.6" cy="282.3" rx="14" ry="5.5" fill="url(#gDisc)" stroke="#2c983d" stroke-width="1.1"/>
<path d="M239.4,282.9 A12.6,5 0 0 0 254.8,285.7" fill="none" stroke="#a4e370" stroke-width="1.1" opacity="0.75"/>
<ellipse cx="250" cy="278.6" rx="14" ry="5.5" fill="#66c44c" stroke="#2c983d" stroke-width="1.1"/>
<ellipse cx="250" cy="277" rx="13.4" ry="5" fill="url(#gTop)" stroke="#3aa641" stroke-width="1"/>
</g>
<g transform="rotate(-4 290 233.9)">
<ellipse cx="291.6" cy="241.9" rx="15" ry="5.5" fill="url(#gDisc)" stroke="#2c983d" stroke-width="1.1"/>
<path d="M279.6,242.5 A13.5,5 0 0 0 296.1,245.3" fill="none" stroke="#a4e370" stroke-width="1.1" opacity="0.75"/>
<ellipse cx="291.1" cy="236.6" rx="15" ry="5.5" fill="url(#gDisc)" stroke="#2c983d" stroke-width="1.1"/>
<path d="M279.1,237.2 A13.5,5 0 0 0 295.6,240" fill="none" stroke="#a4e370" stroke-width="1.1" opacity="0.75"/>
<ellipse cx="290.6" cy="231.3" rx="15" ry="5.5" fill="url(#gDisc)" stroke="#2c983d" stroke-width="1.1"/>
<path d="M278.6,231.9 A13.5,5 0 0 0 295.1,234.7" fill="none" stroke="#a4e370" stroke-width="1.1" opacity="0.75"/>
<ellipse cx="290" cy="227.6" rx="15" ry="5.5" fill="#66c44c" stroke="#2c983d" stroke-width="1.1"/>
<ellipse cx="290" cy="226" rx="14.4" ry="5" fill="url(#gTop)" stroke="#3aa641" stroke-width="1"/>
</g>
</g>
<g clip-path="url(#clipCF)" fill="none" stroke="#e4f5c0" stroke-width="1.4" opacity="0.3" stroke-linecap="round">
<path d="M356,205 Q356.0,209.5 352,214"/>
<path d="M384,213 Q383.0,218.5 378,224"/>
<path d="M407,223 Q405.5,228.5 400,234"/>
<path d="M430,234 Q427.5,238.5 421,243"/>
<path d="M449,247 Q445.5,250.5 438,254"/>
<path d="M461,262 Q457.0,265.0 449,268"/>
<path d="M468,280 Q463.5,282.0 455,284"/>
<path d="M469,298 Q465.0,298.5 457,299"/>
<path d="M322,209 Q326.5,214.0 327,219"/>
<path d="M300,218 Q305.0,223.0 306,228"/>
</g>
<text x="313" y="156.7" font-size="17.5" fill="#111" textLength="104.5" lengthAdjust="spacing">Chloroplast</text>
<defs>
<linearGradient id="gMitoBody" x1="0" y1="0" x2="0.25" y2="1">
<stop offset="0" stop-color="#de3a31"/><stop offset="0.5" stop-color="#e93e34"/><stop offset="0.88" stop-color="#e43b32"/><stop offset="1" stop-color="#d0332c"/>
</linearGradient>
<linearGradient id="gMitoFace" x1="0" y1="0" x2="0.15" y2="1">
<stop offset="0" stop-color="#c04e19"/><stop offset="0.45" stop-color="#d3661d"/><stop offset="0.8" stop-color="#e6902a"/><stop offset="1" stop-color="#eea02d"/>
</linearGradient>
<linearGradient id="gMatrix" x1="0" y1="0" x2="0.2" y2="1">
<stop offset="0" stop-color="#eb9c2c"/><stop offset="1" stop-color="#f3a52f"/>
</linearGradient>
</defs>
<path d="M236.7,681C236.2,675.2 237.7,671.1 240,666.1C242.3,661.1 246,655.3 250.6,651.2C255.2,647.1 261.3,643.7 267.7,641.6C274.1,639.5 280.1,639.1 289,638.4C297.9,637.7 310.3,637.8 321,637.3C331.7,636.8 342.3,636.3 353,635.2C363.7,634.1 375.5,632.6 385,630.9C394.5,629.2 402.9,627.1 410,625.1C417.1,623.1 421.5,621.1 427.3,619.1C433.1,617.1 438.9,614.7 444.7,613C450.5,611.3 456.2,609.7 462,608.7C467.8,607.7 474.1,607 479.3,606.9C484.5,606.8 488.9,606.8 493.2,607.8C497.5,608.8 501.8,610.5 505.3,613C508.8,615.5 511.4,618.3 514,622.5C516.6,626.7 519.2,632.6 520.9,638.1C522.6,643.6 523.8,649.9 524.4,655.5C525,661.1 524.9,665.2 524.5,672C524.1,678.8 523.8,689.7 522,696C520.2,702.3 517.3,705.3 514,710C510.7,714.7 506.2,720.1 502,724C497.8,727.9 494.3,730.2 489,733.5C483.7,736.8 476.5,740.9 470,744C463.5,747.1 456.7,749.7 450,752C443.3,754.3 436.7,756.3 430,758C423.3,759.7 416.7,761 410,762C403.3,763 396.7,764 390,764.3C383.3,764.6 376.7,764.4 370,764C363.3,763.6 356.7,763.2 350,762.2C343.3,761.2 336.7,759.7 330,758C323.3,756.3 316.7,754.4 310,752C303.3,749.6 296.7,746.9 290,743.5C283.3,740.1 276,735.8 270,731.5C264,727.2 258.5,722.6 254,717.5C249.5,712.4 245.9,707.1 243,701C240.1,694.9 237.2,686.8 236.7,681Z" fill="url(#gMitoBody)" stroke="#b02a28" stroke-width="0.9"/>
<filter id="blur3" x="-20%" y="-20%" width="140%" height="140%"><feGaussianBlur stdDeviation="3.2"/></filter>
<clipPath id="clipBody"><path d="M236.7,681C236.2,675.2 237.7,671.1 240,666.1C242.3,661.1 246,655.3 250.6,651.2C255.2,647.1 261.3,643.7 267.7,641.6C274.1,639.5 280.1,639.1 289,638.4C297.9,637.7 310.3,637.8 321,637.3C331.7,636.8 342.3,636.3 353,635.2C363.7,634.1 375.5,632.6 385,630.9C394.5,629.2 402.9,627.1 410,625.1C417.1,623.1 421.5,621.1 427.3,619.1C433.1,617.1 438.9,614.7 444.7,613C450.5,611.3 456.2,609.7 462,608.7C467.8,607.7 474.1,607 479.3,606.9C484.5,606.8 488.9,606.8 493.2,607.8C497.5,608.8 501.8,610.5 505.3,613C508.8,615.5 511.4,618.3 514,622.5C516.6,626.7 519.2,632.6 520.9,638.1C522.6,643.6 523.8,649.9 524.4,655.5C525,661.1 524.9,665.2 524.5,672C524.1,678.8 523.8,689.7 522,696C520.2,702.3 517.3,705.3 514,710C510.7,714.7 506.2,720.1 502,724C497.8,727.9 494.3,730.2 489,733.5C483.7,736.8 476.5,740.9 470,744C463.5,747.1 456.7,749.7 450,752C443.3,754.3 436.7,756.3 430,758C423.3,759.7 416.7,761 410,762C403.3,763 396.7,764 390,764.3C383.3,764.6 376.7,764.4 370,764C363.3,763.6 356.7,763.2 350,762.2C343.3,761.2 336.7,759.7 330,758C323.3,756.3 316.7,754.4 310,752C303.3,749.6 296.7,746.9 290,743.5C283.3,740.1 276,735.8 270,731.5C264,727.2 258.5,722.6 254,717.5C249.5,712.4 245.9,707.1 243,701C240.1,694.9 237.2,686.8 236.7,681Z"/></clipPath>
<g clip-path="url(#clipBody)"><path d="M516,644C514.9,646.6 512.6,654.1 509.5,659.5C506.4,664.9 502.4,670.7 497.5,676.5C492.6,682.3 485.8,689.2 480,694.2C474.2,699.2 468.3,702.8 462.5,706.3C456.7,709.8 450.8,712.4 445,715C439.2,717.6 433.3,720.1 427.5,722C421.7,723.9 417.1,725 410,726.3C402.9,727.6 392.7,728.6 385,729.6C377.3,730.6 370.8,731.9 363.7,732.4C356.6,732.9 349.4,733.2 342.3,732.9C335.2,732.6 328.1,731.8 321,730.7C313.9,729.6 306.8,728.3 299.7,726.5C292.6,724.7 285.4,723 278.3,720.1C271.2,717.2 262.7,713.3 257,709.4C251.3,705.5 247.4,701.2 244.2,696.5C241,691.8 238.9,683.6 237.8,681" fill="none" stroke="#a8221f" stroke-width="8" opacity="0.55" filter="url(#blur3)" transform="translate(0,2.5)"/></g>
<path d="M237.8,681C238.3,678.6 238.8,671.3 241,666.5C243.2,661.7 246.7,656 251.2,652C255.7,648 261.7,644.7 268,642.6C274.3,640.5 280.2,640.1 289,639.4C297.8,638.7 310.3,638.8 321,638.3C331.7,637.8 342.3,637.3 353,636.2C363.7,635.1 375.5,633.6 385,631.9C394.5,630.2 402.9,628.1 410,626.1C417.1,624.1 421.5,622.1 427.3,620.1C433.1,618.1 438.9,615.7 444.7,614C450.5,612.3 456.2,610.7 462,609.7C467.8,608.7 474.1,608 479.3,607.9C484.5,607.8 488.8,607.8 493,608.8C497.2,609.8 501.3,611.4 504.6,613.8C507.9,616.2 511,619.6 513,623C515,626.4 516,630.5 516.5,634C517,637.5 516.1,642.3 516,644C514.9,646.6 512.6,654.1 509.5,659.5C506.4,664.9 502.4,670.7 497.5,676.5C492.6,682.3 485.8,689.2 480,694.2C474.2,699.2 468.3,702.8 462.5,706.3C456.7,709.8 450.8,712.4 445,715C439.2,717.6 433.3,720.1 427.5,722C421.7,723.9 417.1,725 410,726.3C402.9,727.6 392.7,728.6 385,729.6C377.3,730.6 370.8,731.9 363.7,732.4C356.6,732.9 349.4,733.2 342.3,732.9C335.2,732.6 328.1,731.8 321,730.7C313.9,729.6 306.8,728.3 299.7,726.5C292.6,724.7 285.4,723 278.3,720.1C271.2,717.2 262.7,713.3 257,709.4C251.3,705.5 247.4,701.2 244.2,696.5C241,691.8 238.9,683.6 237.8,681Z" fill="url(#gMitoFace)" stroke="#f68a8a" stroke-width="3.3" stroke-linejoin="round"/>
<clipPath id="clipFace"><path d="M237.8,681C238.3,678.6 238.8,671.3 241,666.5C243.2,661.7 246.7,656 251.2,652C255.7,648 261.7,644.7 268,642.6C274.3,640.5 280.2,640.1 289,639.4C297.8,638.7 310.3,638.8 321,638.3C331.7,637.8 342.3,637.3 353,636.2C363.7,635.1 375.5,633.6 385,631.9C394.5,630.2 402.9,628.1 410,626.1C417.1,624.1 421.5,622.1 427.3,620.1C433.1,618.1 438.9,615.7 444.7,614C450.5,612.3 456.2,610.7 462,609.7C467.8,608.7 474.1,608 479.3,607.9C484.5,607.8 488.8,607.8 493,608.8C497.2,609.8 501.3,611.4 504.6,613.8C507.9,616.2 511,619.6 513,623C515,626.4 516,630.5 516.5,634C517,637.5 516.1,642.3 516,644C514.9,646.6 512.6,654.1 509.5,659.5C506.4,664.9 502.4,670.7 497.5,676.5C492.6,682.3 485.8,689.2 480,694.2C474.2,699.2 468.3,702.8 462.5,706.3C456.7,709.8 450.8,712.4 445,715C439.2,717.6 433.3,720.1 427.5,722C421.7,723.9 417.1,725 410,726.3C402.9,727.6 392.7,728.6 385,729.6C377.3,730.6 370.8,731.9 363.7,732.4C356.6,732.9 349.4,733.2 342.3,732.9C335.2,732.6 328.1,731.8 321,730.7C313.9,729.6 306.8,728.3 299.7,726.5C292.6,724.7 285.4,723 278.3,720.1C271.2,717.2 262.7,713.3 257,709.4C251.3,705.5 247.4,701.2 244.2,696.5C241,691.8 238.9,683.6 237.8,681Z"/></clipPath>
<g clip-path="url(#clipFace)"><path d="M237.8,681C238.3,678.6 238.8,671.3 241,666.5C243.2,661.7 246.7,656 251.2,652C255.7,648 261.7,644.7 268,642.6C274.3,640.5 280.2,640.1 289,639.4C297.8,638.7 310.3,638.8 321,638.3C331.7,637.8 342.3,637.3 353,636.2C363.7,635.1 375.5,633.6 385,631.9C394.5,630.2 402.9,628.1 410,626.1C417.1,624.1 421.5,622.1 427.3,620.1C433.1,618.1 438.9,615.7 444.7,614C450.5,612.3 456.2,610.7 462,609.7C467.8,608.7 474.1,608 479.3,607.9C484.5,607.8 488.8,607.8 493,608.8C497.2,609.8 501.3,611.4 504.6,613.8C507.9,616.2 511,619.6 513,623C515,626.4 516,630.5 516.5,634C517,637.5 516.1,642.3 516,644" fill="none" stroke="#a03c10" stroke-width="7" opacity="0.5" filter="url(#blur3)"/></g>
<path d="M237.8,681C238.3,678.6 238.8,671.3 241,666.5C243.2,661.7 246.7,656 251.2,652C255.7,648 261.7,644.7 268,642.6C274.3,640.5 280.2,640.1 289,639.4C297.8,638.7 310.3,638.8 321,638.3C331.7,637.8 342.3,637.3 353,636.2C363.7,635.1 375.5,633.6 385,631.9C394.5,630.2 402.9,628.1 410,626.1C417.1,624.1 421.5,622.1 427.3,620.1C433.1,618.1 438.9,615.7 444.7,614C450.5,612.3 456.2,610.7 462,609.7C467.8,608.7 474.1,608 479.3,607.9C484.5,607.8 488.8,607.8 493,608.8C497.2,609.8 501.3,611.4 504.6,613.8C507.9,616.2 511,619.6 513,623C515,626.4 516,630.5 516.5,634C517,637.5 516.1,642.3 516,644C514.9,646.6 512.6,654.1 509.5,659.5C506.4,664.9 502.4,670.7 497.5,676.5C492.6,682.3 485.8,689.2 480,694.2C474.2,699.2 468.3,702.8 462.5,706.3C456.7,709.8 450.8,712.4 445,715C439.2,717.6 433.3,720.1 427.5,722C421.7,723.9 417.1,725 410,726.3C402.9,727.6 392.7,728.6 385,729.6C377.3,730.6 370.8,731.9 363.7,732.4C356.6,732.9 349.4,733.2 342.3,732.9C335.2,732.6 328.1,731.8 321,730.7C313.9,729.6 306.8,728.3 299.7,726.5C292.6,724.7 285.4,723 278.3,720.1C271.2,717.2 262.7,713.3 257,709.4C251.3,705.5 247.4,701.2 244.2,696.5C241,691.8 238.9,683.6 237.8,681Z" fill="none" stroke="#f68a8a" stroke-width="3.3" stroke-linejoin="round"/>
<g clip-path="url(#clipFace)">
<path d="M276.1,659.3C276.4,655.4 277.3,652.7 279,650.5C280.7,648.3 281.4,647.1 286.3,646.1C291.2,645.1 301,644.8 308.3,644.7C315.6,644.6 324.9,644.8 330.3,645.4C335.7,646 338.2,646.7 340.6,648.6C343.1,650.5 344,652 345,657C346,662 346.4,672.7 346.4,678.7C346.4,684.8 345.3,689.4 344.9,693.3C344.5,697.2 343.8,700 344.2,702.1C344.6,704.2 346.2,705.5 347.6,705.8C349,706 351.2,705.7 352.3,703.6C353.4,701.5 353.9,697.4 354.5,693.3C355.1,689.1 355.5,683.6 355.9,678.7C356.3,673.8 356.3,668.6 356.7,664C357.1,659.4 357.1,654.1 358.1,650.8C359.1,647.5 360.3,645.7 362.5,644.2C364.7,642.7 367.4,642.7 371.3,642C375.2,641.3 382.3,640.2 386,639.8C389.7,639.4 391.2,639.2 393.3,639.8C395.4,640.4 397.4,641.4 398.5,643.5C399.6,645.6 399.5,648.4 399.9,652.3C400.3,656.2 400.4,662.8 400.7,666.9C400.9,671 400.8,675 401.4,677.2C402,679.4 403.5,680.2 404.6,680.3C405.7,680.4 407.2,679.9 408,677.9C408.8,675.9 409.1,672.4 409.5,668.4C409.9,664.4 410.2,658.2 410.6,653.7C411,649.2 411,644.8 411.6,641.6C412.2,638.4 413,636.6 414.5,634.7C416,632.8 416.8,631.6 420.4,630.3C424,629 431.4,627.6 436,626.9C440.6,626.2 445.4,625.6 448.1,626C450.9,626.4 451.3,627.2 452.5,629.5C453.7,631.8 454.4,636.1 455.1,639.9C455.8,643.6 455.9,649 456.8,652C457.7,655 459,657.5 460.3,658.1C461.6,658.7 463.3,657.4 464.6,655.5C465.9,653.6 466.8,648.8 468.1,646.8C469.4,644.8 470.5,643.4 472.4,643.3C474.3,643.1 477.3,645.6 479.3,645.9C481.3,646.2 483.2,646 484.5,645.1C485.8,644.2 487.4,642.3 487.1,640.7C486.8,639.1 485,636.9 482.8,635.5C480.6,634.1 476.7,633.7 474.1,632.1C471.5,630.5 468.2,628.2 467.2,626C466.2,623.8 466.7,620.8 468.1,619.1C469.6,617.4 472.6,616.2 475.9,615.6C479.2,615 484.2,614.7 488,615.6C491.8,616.5 495.6,617.9 498.4,620.8C501.1,623.7 503.2,628.8 504.5,632.9C505.8,637 506.3,641.3 506.2,645.1C506.1,648.9 504.9,652.3 503.6,655.5C502.3,658.7 500.1,661.8 498.4,664.1C496.7,666.4 494.5,669 493.2,669.3C491.9,669.6 491.3,667.6 490.6,665.9C489.9,664.2 489.6,660.2 488.9,658.9C488.2,657.6 487.2,657.2 486.3,658.1C485.4,659 484,661.7 483.7,664.1C483.4,666.5 484.8,670.2 484.5,672.8C484.2,675.4 483.6,677.4 481.9,679.7C480.2,682 477.4,684.2 474.1,686.7C470.8,689.2 466.3,692.2 462,694.5C457.7,696.8 451.9,699.2 448.1,700.5C444.4,701.8 441.7,702.6 439.5,702.3C437.3,702 436.1,701.4 435.1,698.8C434.1,696.2 434,691 433.4,686.7C432.8,682.4 432.4,675.8 431.7,672.8C431,669.8 430,668.5 429.1,668.5C428.2,668.5 427.1,669.8 426.5,672.8C425.9,675.8 426,682.1 425.6,686.7C425.2,691.3 424.8,697 423.9,700.5C423,704 422.7,705.8 420.4,707.5C418.1,709.2 414,709.4 410,710.9C406,712.4 399.6,716.1 396.3,716.8C393,717.5 391.6,716.8 390.4,715.3C389.2,713.8 389.3,711.7 388.9,708C388.5,704.3 388.4,698.2 388.2,693.3C388,688.4 387.9,683.1 387.5,678.7C387.1,674.3 386.6,669.5 386,666.9C385.4,664.3 384.7,663.5 383.8,663.3C382.9,663.1 381.8,662.9 380.9,665.5C380,668.1 379.4,672.8 378.7,678.7C378,684.6 377.2,694.6 376.5,700.7C375.8,706.8 375.2,712 374.3,715.3C373.4,718.6 374.2,719.4 371.3,720.5C368.4,721.6 362.3,721.5 356.7,721.9C351.1,722.3 341.5,723.1 337.6,722.7C333.7,722.3 333.8,721.2 333.2,719.7C332.6,718.2 333.6,716.8 333.9,713.9C334.1,711 334.9,704.8 334.7,702.1C334.5,699.4 333.5,698.3 332.5,697.7C331.5,697.1 329.6,697 328.5,698.5C327.4,700 326.6,704 325.9,707C325.2,710 325.2,714.2 324.5,716.5C323.8,718.8 323.5,720 321.5,720.9C319.5,721.8 315.4,721.9 312.7,721.7C310,721.5 307,721.1 305.4,719.5C303.8,717.9 303.4,715 303.2,712.1C302.9,709.2 303.3,704.8 303.9,701.9C304.5,699 305.2,696.2 306.9,694.5C308.6,692.8 311.5,692.6 314.2,691.6C316.9,690.6 321.2,689.9 323,688.7C324.8,687.5 325.4,685.8 325.2,684.3C324.9,682.8 323.8,681.7 321.5,679.9C319.2,678.1 314.7,674.9 311.3,673.3C307.9,671.7 303.6,670.4 301,670.3C298.4,670.2 297,670.9 295.9,672.5C294.8,674.1 294.4,676.7 294.4,679.9C294.4,683.1 295.5,687.7 295.9,691.6C296.3,695.5 297,699.9 296.6,703.3C296.2,706.7 295.2,710.1 293.7,712.1C292.2,714.1 290.2,714.9 287.8,715.1C285.4,715.4 282.4,714.8 279,713.6C275.6,712.4 271.2,710.2 267.3,707.7C263.4,705.2 258.6,702.1 255.5,698.9C252.4,695.7 250.2,692.1 248.9,688.7C247.6,685.3 247.1,682.1 247.5,678.4C247.9,674.7 249.3,669.5 251.1,666.7C252.9,663.9 256.2,661.5 258.5,661.5C260.8,661.5 263.3,663.4 265.1,666.7C266.9,670 268.3,677.1 269.5,681.3C270.7,685.4 271.2,689.3 272.4,691.6C273.6,693.9 275.7,695.8 276.8,695.3C277.9,694.8 278.9,692.2 279,688.7C279.1,685.2 278,678.9 277.5,674C277,669.1 275.9,663.2 276.1,659.3Z" fill="#c8681c" opacity="0.55" transform="translate(5,6)"/>
<path d="M276.1,659.3C276.4,655.4 277.3,652.7 279,650.5C280.7,648.3 281.4,647.1 286.3,646.1C291.2,645.1 301,644.8 308.3,644.7C315.6,644.6 324.9,644.8 330.3,645.4C335.7,646 338.2,646.7 340.6,648.6C343.1,650.5 344,652 345,657C346,662 346.4,672.7 346.4,678.7C346.4,684.8 345.3,689.4 344.9,693.3C344.5,697.2 343.8,700 344.2,702.1C344.6,704.2 346.2,705.5 347.6,705.8C349,706 351.2,705.7 352.3,703.6C353.4,701.5 353.9,697.4 354.5,693.3C355.1,689.1 355.5,683.6 355.9,678.7C356.3,673.8 356.3,668.6 356.7,664C357.1,659.4 357.1,654.1 358.1,650.8C359.1,647.5 360.3,645.7 362.5,644.2C364.7,642.7 367.4,642.7 371.3,642C375.2,641.3 382.3,640.2 386,639.8C389.7,639.4 391.2,639.2 393.3,639.8C395.4,640.4 397.4,641.4 398.5,643.5C399.6,645.6 399.5,648.4 399.9,652.3C400.3,656.2 400.4,662.8 400.7,666.9C400.9,671 400.8,675 401.4,677.2C402,679.4 403.5,680.2 404.6,680.3C405.7,680.4 407.2,679.9 408,677.9C408.8,675.9 409.1,672.4 409.5,668.4C409.9,664.4 410.2,658.2 410.6,653.7C411,649.2 411,644.8 411.6,641.6C412.2,638.4 413,636.6 414.5,634.7C416,632.8 416.8,631.6 420.4,630.3C424,629 431.4,627.6 436,626.9C440.6,626.2 445.4,625.6 448.1,626C450.9,626.4 451.3,627.2 452.5,629.5C453.7,631.8 454.4,636.1 455.1,639.9C455.8,643.6 455.9,649 456.8,652C457.7,655 459,657.5 460.3,658.1C461.6,658.7 463.3,657.4 464.6,655.5C465.9,653.6 466.8,648.8 468.1,646.8C469.4,644.8 470.5,643.4 472.4,643.3C474.3,643.1 477.3,645.6 479.3,645.9C481.3,646.2 483.2,646 484.5,645.1C485.8,644.2 487.4,642.3 487.1,640.7C486.8,639.1 485,636.9 482.8,635.5C480.6,634.1 476.7,633.7 474.1,632.1C471.5,630.5 468.2,628.2 467.2,626C466.2,623.8 466.7,620.8 468.1,619.1C469.6,617.4 472.6,616.2 475.9,615.6C479.2,615 484.2,614.7 488,615.6C491.8,616.5 495.6,617.9 498.4,620.8C501.1,623.7 503.2,628.8 504.5,632.9C505.8,637 506.3,641.3 506.2,645.1C506.1,648.9 504.9,652.3 503.6,655.5C502.3,658.7 500.1,661.8 498.4,664.1C496.7,666.4 494.5,669 493.2,669.3C491.9,669.6 491.3,667.6 490.6,665.9C489.9,664.2 489.6,660.2 488.9,658.9C488.2,657.6 487.2,657.2 486.3,658.1C485.4,659 484,661.7 483.7,664.1C483.4,666.5 484.8,670.2 484.5,672.8C484.2,675.4 483.6,677.4 481.9,679.7C480.2,682 477.4,684.2 474.1,686.7C470.8,689.2 466.3,692.2 462,694.5C457.7,696.8 451.9,699.2 448.1,700.5C444.4,701.8 441.7,702.6 439.5,702.3C437.3,702 436.1,701.4 435.1,698.8C434.1,696.2 434,691 433.4,686.7C432.8,682.4 432.4,675.8 431.7,672.8C431,669.8 430,668.5 429.1,668.5C428.2,668.5 427.1,669.8 426.5,672.8C425.9,675.8 426,682.1 425.6,686.7C425.2,691.3 424.8,697 423.9,700.5C423,704 422.7,705.8 420.4,707.5C418.1,709.2 414,709.4 410,710.9C406,712.4 399.6,716.1 396.3,716.8C393,717.5 391.6,716.8 390.4,715.3C389.2,713.8 389.3,711.7 388.9,708C388.5,704.3 388.4,698.2 388.2,693.3C388,688.4 387.9,683.1 387.5,678.7C387.1,674.3 386.6,669.5 386,666.9C385.4,664.3 384.7,663.5 383.8,663.3C382.9,663.1 381.8,662.9 380.9,665.5C380,668.1 379.4,672.8 378.7,678.7C378,684.6 377.2,694.6 376.5,700.7C375.8,706.8 375.2,712 374.3,715.3C373.4,718.6 374.2,719.4 371.3,720.5C368.4,721.6 362.3,721.5 356.7,721.9C351.1,722.3 341.5,723.1 337.6,722.7C333.7,722.3 333.8,721.2 333.2,719.7C332.6,718.2 333.6,716.8 333.9,713.9C334.1,711 334.9,704.8 334.7,702.1C334.5,699.4 333.5,698.3 332.5,697.7C331.5,697.1 329.6,697 328.5,698.5C327.4,700 326.6,704 325.9,707C325.2,710 325.2,714.2 324.5,716.5C323.8,718.8 323.5,720 321.5,720.9C319.5,721.8 315.4,721.9 312.7,721.7C310,721.5 307,721.1 305.4,719.5C303.8,717.9 303.4,715 303.2,712.1C302.9,709.2 303.3,704.8 303.9,701.9C304.5,699 305.2,696.2 306.9,694.5C308.6,692.8 311.5,692.6 314.2,691.6C316.9,690.6 321.2,689.9 323,688.7C324.8,687.5 325.4,685.8 325.2,684.3C324.9,682.8 323.8,681.7 321.5,679.9C319.2,678.1 314.7,674.9 311.3,673.3C307.9,671.7 303.6,670.4 301,670.3C298.4,670.2 297,670.9 295.9,672.5C294.8,674.1 294.4,676.7 294.4,679.9C294.4,683.1 295.5,687.7 295.9,691.6C296.3,695.5 297,699.9 296.6,703.3C296.2,706.7 295.2,710.1 293.7,712.1C292.2,714.1 290.2,714.9 287.8,715.1C285.4,715.4 282.4,714.8 279,713.6C275.6,712.4 271.2,710.2 267.3,707.7C263.4,705.2 258.6,702.1 255.5,698.9C252.4,695.7 250.2,692.1 248.9,688.7C247.6,685.3 247.1,682.1 247.5,678.4C247.9,674.7 249.3,669.5 251.1,666.7C252.9,663.9 256.2,661.5 258.5,661.5C260.8,661.5 263.3,663.4 265.1,666.7C266.9,670 268.3,677.1 269.5,681.3C270.7,685.4 271.2,689.3 272.4,691.6C273.6,693.9 275.7,695.8 276.8,695.3C277.9,694.8 278.9,692.2 279,688.7C279.1,685.2 278,678.9 277.5,674C277,669.1 275.9,663.2 276.1,659.3Z" fill="url(#gMatrix)"/>
</g>
<clipPath id="clipMatrix"><path d="M276.1,659.3C276.4,655.4 277.3,652.7 279,650.5C280.7,648.3 281.4,647.1 286.3,646.1C291.2,645.1 301,644.8 308.3,644.7C315.6,644.6 324.9,644.8 330.3,645.4C335.7,646 338.2,646.7 340.6,648.6C343.1,650.5 344,652 345,657C346,662 346.4,672.7 346.4,678.7C346.4,684.8 345.3,689.4 344.9,693.3C344.5,697.2 343.8,700 344.2,702.1C344.6,704.2 346.2,705.5 347.6,705.8C349,706 351.2,705.7 352.3,703.6C353.4,701.5 353.9,697.4 354.5,693.3C355.1,689.1 355.5,683.6 355.9,678.7C356.3,673.8 356.3,668.6 356.7,664C357.1,659.4 357.1,654.1 358.1,650.8C359.1,647.5 360.3,645.7 362.5,644.2C364.7,642.7 367.4,642.7 371.3,642C375.2,641.3 382.3,640.2 386,639.8C389.7,639.4 391.2,639.2 393.3,639.8C395.4,640.4 397.4,641.4 398.5,643.5C399.6,645.6 399.5,648.4 399.9,652.3C400.3,656.2 400.4,662.8 400.7,666.9C400.9,671 400.8,675 401.4,677.2C402,679.4 403.5,680.2 404.6,680.3C405.7,680.4 407.2,679.9 408,677.9C408.8,675.9 409.1,672.4 409.5,668.4C409.9,664.4 410.2,658.2 410.6,653.7C411,649.2 411,644.8 411.6,641.6C412.2,638.4 413,636.6 414.5,634.7C416,632.8 416.8,631.6 420.4,630.3C424,629 431.4,627.6 436,626.9C440.6,626.2 445.4,625.6 448.1,626C450.9,626.4 451.3,627.2 452.5,629.5C453.7,631.8 454.4,636.1 455.1,639.9C455.8,643.6 455.9,649 456.8,652C457.7,655 459,657.5 460.3,658.1C461.6,658.7 463.3,657.4 464.6,655.5C465.9,653.6 466.8,648.8 468.1,646.8C469.4,644.8 470.5,643.4 472.4,643.3C474.3,643.1 477.3,645.6 479.3,645.9C481.3,646.2 483.2,646 484.5,645.1C485.8,644.2 487.4,642.3 487.1,640.7C486.8,639.1 485,636.9 482.8,635.5C480.6,634.1 476.7,633.7 474.1,632.1C471.5,630.5 468.2,628.2 467.2,626C466.2,623.8 466.7,620.8 468.1,619.1C469.6,617.4 472.6,616.2 475.9,615.6C479.2,615 484.2,614.7 488,615.6C491.8,616.5 495.6,617.9 498.4,620.8C501.1,623.7 503.2,628.8 504.5,632.9C505.8,637 506.3,641.3 506.2,645.1C506.1,648.9 504.9,652.3 503.6,655.5C502.3,658.7 500.1,661.8 498.4,664.1C496.7,666.4 494.5,669 493.2,669.3C491.9,669.6 491.3,667.6 490.6,665.9C489.9,664.2 489.6,660.2 488.9,658.9C488.2,657.6 487.2,657.2 486.3,658.1C485.4,659 484,661.7 483.7,664.1C483.4,666.5 484.8,670.2 484.5,672.8C484.2,675.4 483.6,677.4 481.9,679.7C480.2,682 477.4,684.2 474.1,686.7C470.8,689.2 466.3,692.2 462,694.5C457.7,696.8 451.9,699.2 448.1,700.5C444.4,701.8 441.7,702.6 439.5,702.3C437.3,702 436.1,701.4 435.1,698.8C434.1,696.2 434,691 433.4,686.7C432.8,682.4 432.4,675.8 431.7,672.8C431,669.8 430,668.5 429.1,668.5C428.2,668.5 427.1,669.8 426.5,672.8C425.9,675.8 426,682.1 425.6,686.7C425.2,691.3 424.8,697 423.9,700.5C423,704 422.7,705.8 420.4,707.5C418.1,709.2 414,709.4 410,710.9C406,712.4 399.6,716.1 396.3,716.8C393,717.5 391.6,716.8 390.4,715.3C389.2,713.8 389.3,711.7 388.9,708C388.5,704.3 388.4,698.2 388.2,693.3C388,688.4 387.9,683.1 387.5,678.7C387.1,674.3 386.6,669.5 386,666.9C385.4,664.3 384.7,663.5 383.8,663.3C382.9,663.1 381.8,662.9 380.9,665.5C380,668.1 379.4,672.8 378.7,678.7C378,684.6 377.2,694.6 376.5,700.7C375.8,706.8 375.2,712 374.3,715.3C373.4,718.6 374.2,719.4 371.3,720.5C368.4,721.6 362.3,721.5 356.7,721.9C351.1,722.3 341.5,723.1 337.6,722.7C333.7,722.3 333.8,721.2 333.2,719.7C332.6,718.2 333.6,716.8 333.9,713.9C334.1,711 334.9,704.8 334.7,702.1C334.5,699.4 333.5,698.3 332.5,697.7C331.5,697.1 329.6,697 328.5,698.5C327.4,700 326.6,704 325.9,707C325.2,710 325.2,714.2 324.5,716.5C323.8,718.8 323.5,720 321.5,720.9C319.5,721.8 315.4,721.9 312.7,721.7C310,721.5 307,721.1 305.4,719.5C303.8,717.9 303.4,715 303.2,712.1C302.9,709.2 303.3,704.8 303.9,701.9C304.5,699 305.2,696.2 306.9,694.5C308.6,692.8 311.5,692.6 314.2,691.6C316.9,690.6 321.2,689.9 323,688.7C324.8,687.5 325.4,685.8 325.2,684.3C324.9,682.8 323.8,681.7 321.5,679.9C319.2,678.1 314.7,674.9 311.3,673.3C307.9,671.7 303.6,670.4 301,670.3C298.4,670.2 297,670.9 295.9,672.5C294.8,674.1 294.4,676.7 294.4,679.9C294.4,683.1 295.5,687.7 295.9,691.6C296.3,695.5 297,699.9 296.6,703.3C296.2,706.7 295.2,710.1 293.7,712.1C292.2,714.1 290.2,714.9 287.8,715.1C285.4,715.4 282.4,714.8 279,713.6C275.6,712.4 271.2,710.2 267.3,707.7C263.4,705.2 258.6,702.1 255.5,698.9C252.4,695.7 250.2,692.1 248.9,688.7C247.6,685.3 247.1,682.1 247.5,678.4C247.9,674.7 249.3,669.5 251.1,666.7C252.9,663.9 256.2,661.5 258.5,661.5C260.8,661.5 263.3,663.4 265.1,666.7C266.9,670 268.3,677.1 269.5,681.3C270.7,685.4 271.2,689.3 272.4,691.6C273.6,693.9 275.7,695.8 276.8,695.3C277.9,694.8 278.9,692.2 279,688.7C279.1,685.2 278,678.9 277.5,674C277,669.1 275.9,663.2 276.1,659.3Z"/></clipPath>
<filter id="blur2" x="-30%" y="-30%" width="160%" height="160%"><feGaussianBlur stdDeviation="1.6"/></filter>
<g clip-path="url(#clipMatrix)" fill="#c66f1c" opacity="0.42" filter="url(#blur2)">
<polygon points="273.5,690 280.5,689 301.6,716.5 294.6,718.5"/>
<polygon points="344,700 351,699 369.6,723.4 362.6,725.4"/>
<polygon points="401,676 408,675 435.3,710.3 428.3,712.3"/>
<polygon points="456.5,654 463.5,653 494.5,693 487.5,695"/>
<polygon points="294.5,668 303.5,667 322.1,691.4 313.1,693.4"/>
<polygon points="380.3,662 387.3,661 412.1,693.2 405.1,695.2"/>
<polygon points="426,667 432,666 454.3,695.1 448.3,697.1"/>
<polygon points="483.5,657 488.5,656 504.6,677.3 499.6,679.3"/>
<polygon points="318,684 326,683 344.6,707.4 336.6,709.4"/>
<polygon points="331.5,697 336.5,696 351.4,715.7 346.4,717.7"/>
<polygon points="255,661 261,660 279.6,684.4 273.6,686.4"/>
</g>
<path d="M276.1,659.3C276.4,655.4 277.3,652.7 279,650.5C280.7,648.3 281.4,647.1 286.3,646.1C291.2,645.1 301,644.8 308.3,644.7C315.6,644.6 324.9,644.8 330.3,645.4C335.7,646 338.2,646.7 340.6,648.6C343.1,650.5 344,652 345,657C346,662 346.4,672.7 346.4,678.7C346.4,684.8 345.3,689.4 344.9,693.3C344.5,697.2 343.8,700 344.2,702.1C344.6,704.2 346.2,705.5 347.6,705.8C349,706 351.2,705.7 352.3,703.6C353.4,701.5 353.9,697.4 354.5,693.3C355.1,689.1 355.5,683.6 355.9,678.7C356.3,673.8 356.3,668.6 356.7,664C357.1,659.4 357.1,654.1 358.1,650.8C359.1,647.5 360.3,645.7 362.5,644.2C364.7,642.7 367.4,642.7 371.3,642C375.2,641.3 382.3,640.2 386,639.8C389.7,639.4 391.2,639.2 393.3,639.8C395.4,640.4 397.4,641.4 398.5,643.5C399.6,645.6 399.5,648.4 399.9,652.3C400.3,656.2 400.4,662.8 400.7,666.9C400.9,671 400.8,675 401.4,677.2C402,679.4 403.5,680.2 404.6,680.3C405.7,680.4 407.2,679.9 408,677.9C408.8,675.9 409.1,672.4 409.5,668.4C409.9,664.4 410.2,658.2 410.6,653.7C411,649.2 411,644.8 411.6,641.6C412.2,638.4 413,636.6 414.5,634.7C416,632.8 416.8,631.6 420.4,630.3C424,629 431.4,627.6 436,626.9C440.6,626.2 445.4,625.6 448.1,626C450.9,626.4 451.3,627.2 452.5,629.5C453.7,631.8 454.4,636.1 455.1,639.9C455.8,643.6 455.9,649 456.8,652C457.7,655 459,657.5 460.3,658.1C461.6,658.7 463.3,657.4 464.6,655.5C465.9,653.6 466.8,648.8 468.1,646.8C469.4,644.8 470.5,643.4 472.4,643.3C474.3,643.1 477.3,645.6 479.3,645.9C481.3,646.2 483.2,646 484.5,645.1C485.8,644.2 487.4,642.3 487.1,640.7C486.8,639.1 485,636.9 482.8,635.5C480.6,634.1 476.7,633.7 474.1,632.1C471.5,630.5 468.2,628.2 467.2,626C466.2,623.8 466.7,620.8 468.1,619.1C469.6,617.4 472.6,616.2 475.9,615.6C479.2,615 484.2,614.7 488,615.6C491.8,616.5 495.6,617.9 498.4,620.8C501.1,623.7 503.2,628.8 504.5,632.9C505.8,637 506.3,641.3 506.2,645.1C506.1,648.9 504.9,652.3 503.6,655.5C502.3,658.7 500.1,661.8 498.4,664.1C496.7,666.4 494.5,669 493.2,669.3C491.9,669.6 491.3,667.6 490.6,665.9C489.9,664.2 489.6,660.2 488.9,658.9C488.2,657.6 487.2,657.2 486.3,658.1C485.4,659 484,661.7 483.7,664.1C483.4,666.5 484.8,670.2 484.5,672.8C484.2,675.4 483.6,677.4 481.9,679.7C480.2,682 477.4,684.2 474.1,686.7C470.8,689.2 466.3,692.2 462,694.5C457.7,696.8 451.9,699.2 448.1,700.5C444.4,701.8 441.7,702.6 439.5,702.3C437.3,702 436.1,701.4 435.1,698.8C434.1,696.2 434,691 433.4,686.7C432.8,682.4 432.4,675.8 431.7,672.8C431,669.8 430,668.5 429.1,668.5C428.2,668.5 427.1,669.8 426.5,672.8C425.9,675.8 426,682.1 425.6,686.7C425.2,691.3 424.8,697 423.9,700.5C423,704 422.7,705.8 420.4,707.5C418.1,709.2 414,709.4 410,710.9C406,712.4 399.6,716.1 396.3,716.8C393,717.5 391.6,716.8 390.4,715.3C389.2,713.8 389.3,711.7 388.9,708C388.5,704.3 388.4,698.2 388.2,693.3C388,688.4 387.9,683.1 387.5,678.7C387.1,674.3 386.6,669.5 386,666.9C385.4,664.3 384.7,663.5 383.8,663.3C382.9,663.1 381.8,662.9 380.9,665.5C380,668.1 379.4,672.8 378.7,678.7C378,684.6 377.2,694.6 376.5,700.7C375.8,706.8 375.2,712 374.3,715.3C373.4,718.6 374.2,719.4 371.3,720.5C368.4,721.6 362.3,721.5 356.7,721.9C351.1,722.3 341.5,723.1 337.6,722.7C333.7,722.3 333.8,721.2 333.2,719.7C332.6,718.2 333.6,716.8 333.9,713.9C334.1,711 334.9,704.8 334.7,702.1C334.5,699.4 333.5,698.3 332.5,697.7C331.5,697.1 329.6,697 328.5,698.5C327.4,700 326.6,704 325.9,707C325.2,710 325.2,714.2 324.5,716.5C323.8,718.8 323.5,720 321.5,720.9C319.5,721.8 315.4,721.9 312.7,721.7C310,721.5 307,721.1 305.4,719.5C303.8,717.9 303.4,715 303.2,712.1C302.9,709.2 303.3,704.8 303.9,701.9C304.5,699 305.2,696.2 306.9,694.5C308.6,692.8 311.5,692.6 314.2,691.6C316.9,690.6 321.2,689.9 323,688.7C324.8,687.5 325.4,685.8 325.2,684.3C324.9,682.8 323.8,681.7 321.5,679.9C319.2,678.1 314.7,674.9 311.3,673.3C307.9,671.7 303.6,670.4 301,670.3C298.4,670.2 297,670.9 295.9,672.5C294.8,674.1 294.4,676.7 294.4,679.9C294.4,683.1 295.5,687.7 295.9,691.6C296.3,695.5 297,699.9 296.6,703.3C296.2,706.7 295.2,710.1 293.7,712.1C292.2,714.1 290.2,714.9 287.8,715.1C285.4,715.4 282.4,714.8 279,713.6C275.6,712.4 271.2,710.2 267.3,707.7C263.4,705.2 258.6,702.1 255.5,698.9C252.4,695.7 250.2,692.1 248.9,688.7C247.6,685.3 247.1,682.1 247.5,678.4C247.9,674.7 249.3,669.5 251.1,666.7C252.9,663.9 256.2,661.5 258.5,661.5C260.8,661.5 263.3,663.4 265.1,666.7C266.9,670 268.3,677.1 269.5,681.3C270.7,685.4 271.2,689.3 272.4,691.6C273.6,693.9 275.7,695.8 276.8,695.3C277.9,694.8 278.9,692.2 279,688.7C279.1,685.2 278,678.9 277.5,674C277,669.1 275.9,663.2 276.1,659.3Z" fill="none" stroke="#c0701e" stroke-width="4.5" stroke-linejoin="round"/>
<path d="M276.1,659.3C276.4,655.4 277.3,652.7 279,650.5C280.7,648.3 281.4,647.1 286.3,646.1C291.2,645.1 301,644.8 308.3,644.7C315.6,644.6 324.9,644.8 330.3,645.4C335.7,646 338.2,646.7 340.6,648.6C343.1,650.5 344,652 345,657C346,662 346.4,672.7 346.4,678.7C346.4,684.8 345.3,689.4 344.9,693.3C344.5,697.2 343.8,700 344.2,702.1C344.6,704.2 346.2,705.5 347.6,705.8C349,706 351.2,705.7 352.3,703.6C353.4,701.5 353.9,697.4 354.5,693.3C355.1,689.1 355.5,683.6 355.9,678.7C356.3,673.8 356.3,668.6 356.7,664C357.1,659.4 357.1,654.1 358.1,650.8C359.1,647.5 360.3,645.7 362.5,644.2C364.7,642.7 367.4,642.7 371.3,642C375.2,641.3 382.3,640.2 386,639.8C389.7,639.4 391.2,639.2 393.3,639.8C395.4,640.4 397.4,641.4 398.5,643.5C399.6,645.6 399.5,648.4 399.9,652.3C400.3,656.2 400.4,662.8 400.7,666.9C400.9,671 400.8,675 401.4,677.2C402,679.4 403.5,680.2 404.6,680.3C405.7,680.4 407.2,679.9 408,677.9C408.8,675.9 409.1,672.4 409.5,668.4C409.9,664.4 410.2,658.2 410.6,653.7C411,649.2 411,644.8 411.6,641.6C412.2,638.4 413,636.6 414.5,634.7C416,632.8 416.8,631.6 420.4,630.3C424,629 431.4,627.6 436,626.9C440.6,626.2 445.4,625.6 448.1,626C450.9,626.4 451.3,627.2 452.5,629.5C453.7,631.8 454.4,636.1 455.1,639.9C455.8,643.6 455.9,649 456.8,652C457.7,655 459,657.5 460.3,658.1C461.6,658.7 463.3,657.4 464.6,655.5C465.9,653.6 466.8,648.8 468.1,646.8C469.4,644.8 470.5,643.4 472.4,643.3C474.3,643.1 477.3,645.6 479.3,645.9C481.3,646.2 483.2,646 484.5,645.1C485.8,644.2 487.4,642.3 487.1,640.7C486.8,639.1 485,636.9 482.8,635.5C480.6,634.1 476.7,633.7 474.1,632.1C471.5,630.5 468.2,628.2 467.2,626C466.2,623.8 466.7,620.8 468.1,619.1C469.6,617.4 472.6,616.2 475.9,615.6C479.2,615 484.2,614.7 488,615.6C491.8,616.5 495.6,617.9 498.4,620.8C501.1,623.7 503.2,628.8 504.5,632.9C505.8,637 506.3,641.3 506.2,645.1C506.1,648.9 504.9,652.3 503.6,655.5C502.3,658.7 500.1,661.8 498.4,664.1C496.7,666.4 494.5,669 493.2,669.3C491.9,669.6 491.3,667.6 490.6,665.9C489.9,664.2 489.6,660.2 488.9,658.9C488.2,657.6 487.2,657.2 486.3,658.1C485.4,659 484,661.7 483.7,664.1C483.4,666.5 484.8,670.2 484.5,672.8C484.2,675.4 483.6,677.4 481.9,679.7C480.2,682 477.4,684.2 474.1,686.7C470.8,689.2 466.3,692.2 462,694.5C457.7,696.8 451.9,699.2 448.1,700.5C444.4,701.8 441.7,702.6 439.5,702.3C437.3,702 436.1,701.4 435.1,698.8C434.1,696.2 434,691 433.4,686.7C432.8,682.4 432.4,675.8 431.7,672.8C431,669.8 430,668.5 429.1,668.5C428.2,668.5 427.1,669.8 426.5,672.8C425.9,675.8 426,682.1 425.6,686.7C425.2,691.3 424.8,697 423.9,700.5C423,704 422.7,705.8 420.4,707.5C418.1,709.2 414,709.4 410,710.9C406,712.4 399.6,716.1 396.3,716.8C393,717.5 391.6,716.8 390.4,715.3C389.2,713.8 389.3,711.7 388.9,708C388.5,704.3 388.4,698.2 388.2,693.3C388,688.4 387.9,683.1 387.5,678.7C387.1,674.3 386.6,669.5 386,666.9C385.4,664.3 384.7,663.5 383.8,663.3C382.9,663.1 381.8,662.9 380.9,665.5C380,668.1 379.4,672.8 378.7,678.7C378,684.6 377.2,694.6 376.5,700.7C375.8,706.8 375.2,712 374.3,715.3C373.4,718.6 374.2,719.4 371.3,720.5C368.4,721.6 362.3,721.5 356.7,721.9C351.1,722.3 341.5,723.1 337.6,722.7C333.7,722.3 333.8,721.2 333.2,719.7C332.6,718.2 333.6,716.8 333.9,713.9C334.1,711 334.9,704.8 334.7,702.1C334.5,699.4 333.5,698.3 332.5,697.7C331.5,697.1 329.6,697 328.5,698.5C327.4,700 326.6,704 325.9,707C325.2,710 325.2,714.2 324.5,716.5C323.8,718.8 323.5,720 321.5,720.9C319.5,721.8 315.4,721.9 312.7,721.7C310,721.5 307,721.1 305.4,719.5C303.8,717.9 303.4,715 303.2,712.1C302.9,709.2 303.3,704.8 303.9,701.9C304.5,699 305.2,696.2 306.9,694.5C308.6,692.8 311.5,692.6 314.2,691.6C316.9,690.6 321.2,689.9 323,688.7C324.8,687.5 325.4,685.8 325.2,684.3C324.9,682.8 323.8,681.7 321.5,679.9C319.2,678.1 314.7,674.9 311.3,673.3C307.9,671.7 303.6,670.4 301,670.3C298.4,670.2 297,670.9 295.9,672.5C294.8,674.1 294.4,676.7 294.4,679.9C294.4,683.1 295.5,687.7 295.9,691.6C296.3,695.5 297,699.9 296.6,703.3C296.2,706.7 295.2,710.1 293.7,712.1C292.2,714.1 290.2,714.9 287.8,715.1C285.4,715.4 282.4,714.8 279,713.6C275.6,712.4 271.2,710.2 267.3,707.7C263.4,705.2 258.6,702.1 255.5,698.9C252.4,695.7 250.2,692.1 248.9,688.7C247.6,685.3 247.1,682.1 247.5,678.4C247.9,674.7 249.3,669.5 251.1,666.7C252.9,663.9 256.2,661.5 258.5,661.5C260.8,661.5 263.3,663.4 265.1,666.7C266.9,670 268.3,677.1 269.5,681.3C270.7,685.4 271.2,689.3 272.4,691.6C273.6,693.9 275.7,695.8 276.8,695.3C277.9,694.8 278.9,692.2 279,688.7C279.1,685.2 278,678.9 277.5,674C277,669.1 275.9,663.2 276.1,659.3Z" fill="none" stroke="#fdeaa8" stroke-width="3.1" stroke-linejoin="round"/>
<text x="321.3" y="786.4" font-size="17" fill="#111" textLength="115.5" lengthAdjust="spacing">Mitochondria</text>
<rect x="76.9" y="402.9" width="38.7" height="28.4" rx="5" ry="5" fill="url(#gPinkBox)" stroke="#9a2c34" stroke-width="1.5"/>
<text x="79.9" y="422.1" font-size="17.6" font-weight="bold" fill="#000">CO<tspan font-size="10.6" dy="4.6">2</tspan></text>
<rect x="121" y="491.2" width="60.7" height="25.1" rx="5" ry="5" fill="url(#gPinkBox)" stroke="#9a2c34" stroke-width="1.5"/>
<text x="124.2" y="509.6" font-size="17" font-weight="bold" fill="#000" textLength="53" lengthAdjust="spacing">Water</text>
<rect x="549.1" y="380.4" width="36" height="28.2" rx="5" ry="5" fill="url(#gGreenBox)" stroke="#145f20" stroke-width="1.5"/>
<text x="558.4" y="399.7" font-size="17.2" font-weight="bold" fill="#000">O<tspan font-size="10.4" dy="5.1" dx="-0.6">2</tspan></text>
<rect x="597.6" y="462.5" width="88.4" height="27.5" rx="6" ry="6" fill="url(#gGreenBox)" stroke="#145f20" stroke-width="1.5"/>
<text x="601.9" y="482" font-size="17.4" font-weight="bold" fill="#000" textLength="80" lengthAdjust="spacing">Glucose</text>
<rect x="262.1" y="343.6" width="215.2" height="57.2" rx="6" ry="6" fill="url(#gPhotoBox)" stroke="#25793a" stroke-width="1.7"/>
<text x="282" y="366.8" font-size="21.5" font-weight="bold" fill="#1f6b30" textLength="179" lengthAdjust="spacing">Photosynthesis</text>
<text x="271" y="390" font-size="17.5" fill="#111" textLength="196" lengthAdjust="spacing">(Occurs only in plants)</text>
<rect x="253.3" y="544.2" width="236.1" height="57" rx="6" ry="6" fill="url(#gRespBox)" stroke="#8e2630" stroke-width="1.7"/>
<text x="258" y="568" font-size="21.5" font-weight="bold" fill="#7f2930" textLength="226" lengthAdjust="spacing">Cellular respiration</text>
<text x="261" y="590.8" font-size="17.5" fill="#111" textLength="220" lengthAdjust="spacing">(Occurs in all living cells)</text>
<g fill="none" stroke="#4a4a4a" stroke-width="0.9">
<ellipse cx="643" cy="807.3" rx="8.6" ry="3.3" transform="rotate(30 643 807.3)"/>
<ellipse cx="643" cy="807.3" rx="8.6" ry="3.3" transform="rotate(90 643 807.3)"/>
<ellipse cx="643" cy="807.3" rx="8.6" ry="3.3" transform="rotate(150 643 807.3)"/>
</g>
<circle cx="643" cy="807.3" r="2.1" fill="#f4c430"/>
<circle cx="648.2" cy="801.7" r="1.1" fill="#3b7ddd"/>
<circle cx="636.4" cy="805.7" r="1.1" fill="#e8762c"/>
<circle cx="644.5" cy="815.1" r="1.1" fill="#e8762c"/>
<text x="653.6" y="812" font-size="12" font-style="italic" fill="#3a3a3a" textLength="58.5" lengthAdjust="spacingAndGlyphs">ScienceFacts</text>
<text x="713.8" y="812.3" font-size="7.5" font-style="italic" fill="#e8762c" textLength="12" lengthAdjust="spacingAndGlyphs">.net</text>
</svg>
</body>
</html>
